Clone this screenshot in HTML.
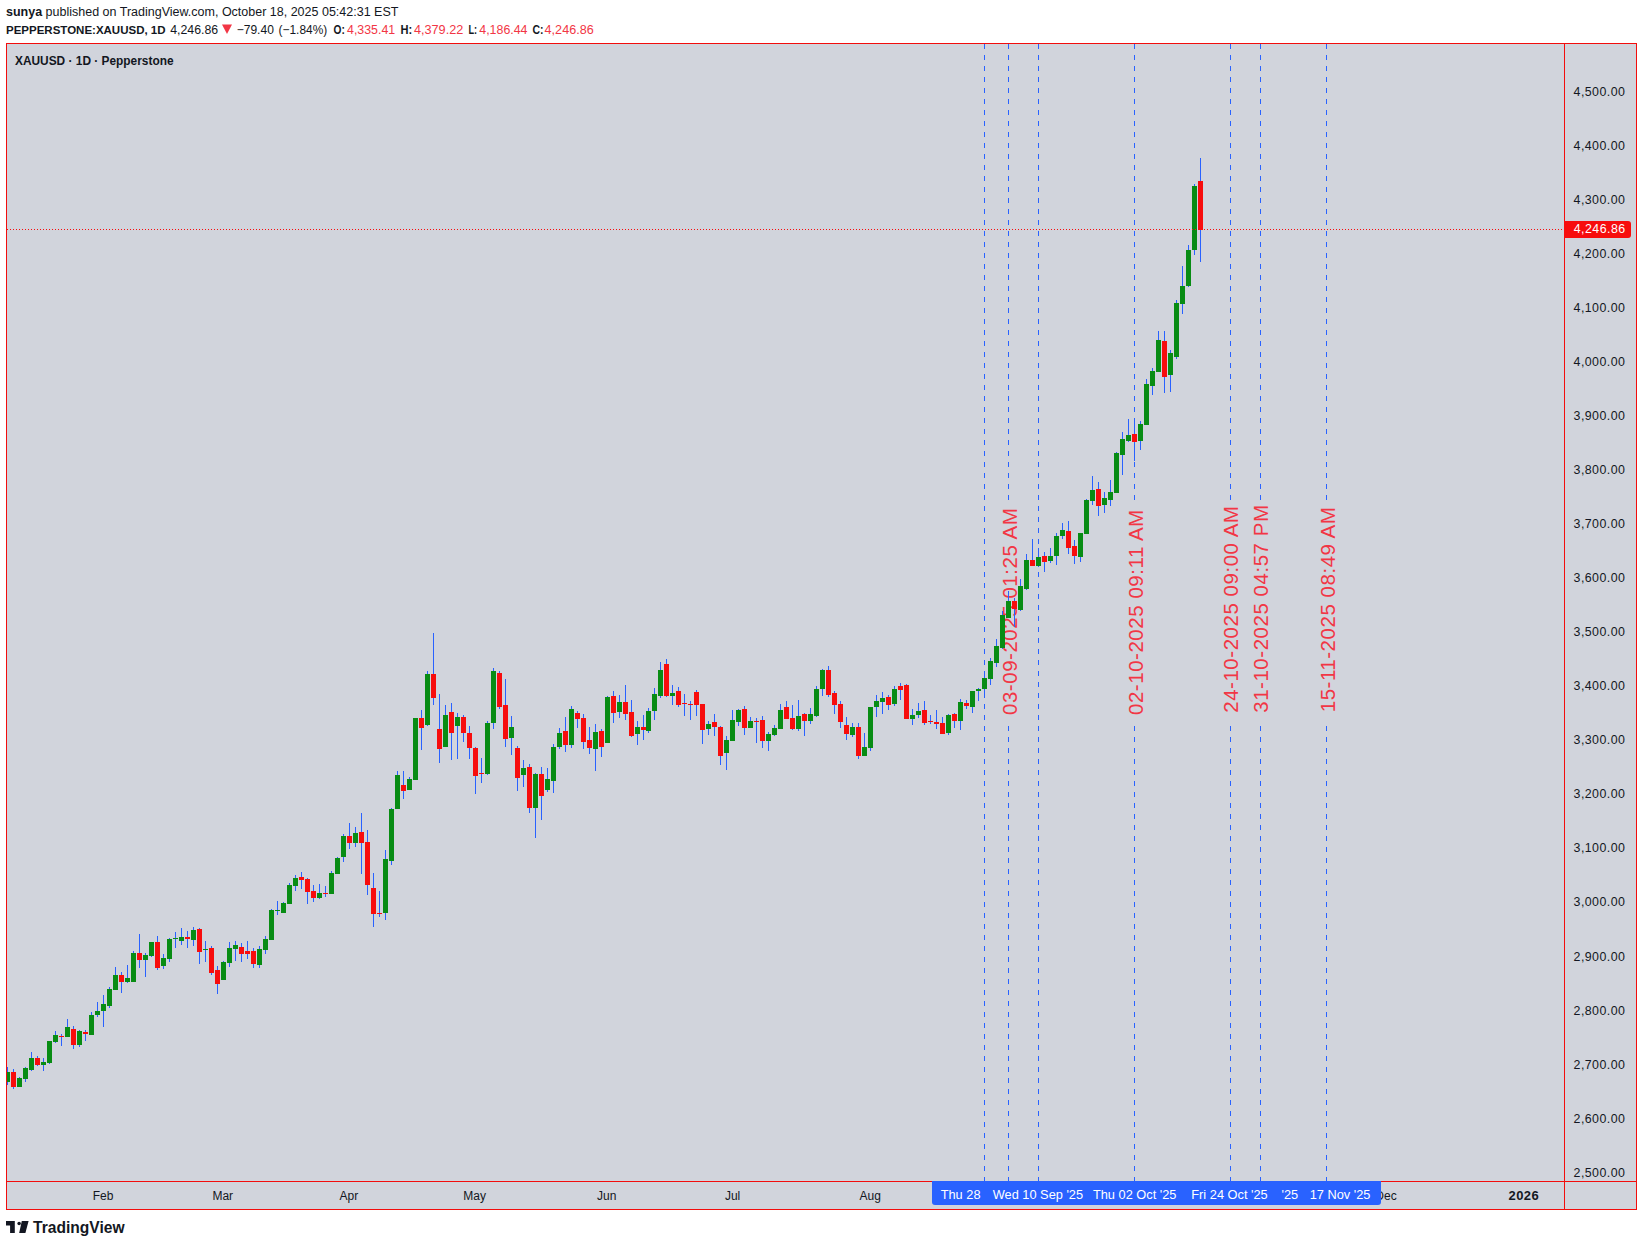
<!DOCTYPE html>
<html><head><meta charset="utf-8"><style>
html,body{margin:0;padding:0;background:#fff;width:1643px;height:1246px;overflow:hidden}
svg{display:block}
</style></head><body>
<svg width="1643" height="1246" viewBox="0 0 1643 1246" shape-rendering="crispEdges">
<rect x="6" y="43" width="1631" height="1167" fill="#d1d4dc"/>
<defs><clipPath id="pane"><rect x="7" y="44" width="1557" height="1137"/></clipPath></defs>
<g clip-path="url(#pane)">
<text x="0" y="0" transform="translate(1016.7,715.0) rotate(-90)" font-family='"Liberation Sans", sans-serif' font-size="20.5" letter-spacing="0.53" fill="#f23645">03-09-2025 01:25 AM</text>
<text x="0" y="0" transform="translate(1142.7,715.0) rotate(-90)" font-family='"Liberation Sans", sans-serif' font-size="20.5" letter-spacing="0.53" fill="#f23645">02-10-2025 09:11 AM</text>
<text x="0" y="0" transform="translate(1238.2,712.8) rotate(-90)" font-family='"Liberation Sans", sans-serif' font-size="20.5" letter-spacing="0.53" fill="#f23645">24-10-2025 09:00 AM</text>
<text x="0" y="0" transform="translate(1268.2,712.8) rotate(-90)" font-family='"Liberation Sans", sans-serif' font-size="20.5" letter-spacing="0.53" fill="#f23645">31-10-2025 04:57 PM</text>
<text x="0" y="0" transform="translate(1334.7,712.3) rotate(-90)" font-family='"Liberation Sans", sans-serif' font-size="20.5" letter-spacing="0.53" fill="#f23645">15-11-2025 08:49 AM</text>
<rect x="984" y="44" width="1" height="5" fill="#2962ff"/>
<rect x="984" y="55" width="1" height="5" fill="#2962ff"/>
<rect x="984" y="66" width="1" height="5" fill="#2962ff"/>
<rect x="984" y="77" width="1" height="5" fill="#2962ff"/>
<rect x="984" y="88" width="1" height="5" fill="#2962ff"/>
<rect x="984" y="99" width="1" height="5" fill="#2962ff"/>
<rect x="984" y="110" width="1" height="5" fill="#2962ff"/>
<rect x="984" y="121" width="1" height="5" fill="#2962ff"/>
<rect x="984" y="132" width="1" height="5" fill="#2962ff"/>
<rect x="984" y="143" width="1" height="5" fill="#2962ff"/>
<rect x="984" y="154" width="1" height="5" fill="#2962ff"/>
<rect x="984" y="165" width="1" height="5" fill="#2962ff"/>
<rect x="984" y="176" width="1" height="5" fill="#2962ff"/>
<rect x="984" y="187" width="1" height="5" fill="#2962ff"/>
<rect x="984" y="198" width="1" height="5" fill="#2962ff"/>
<rect x="984" y="209" width="1" height="5" fill="#2962ff"/>
<rect x="984" y="220" width="1" height="5" fill="#2962ff"/>
<rect x="984" y="231" width="1" height="5" fill="#2962ff"/>
<rect x="984" y="242" width="1" height="5" fill="#2962ff"/>
<rect x="984" y="253" width="1" height="5" fill="#2962ff"/>
<rect x="984" y="264" width="1" height="5" fill="#2962ff"/>
<rect x="984" y="275" width="1" height="5" fill="#2962ff"/>
<rect x="984" y="286" width="1" height="5" fill="#2962ff"/>
<rect x="984" y="297" width="1" height="5" fill="#2962ff"/>
<rect x="984" y="308" width="1" height="5" fill="#2962ff"/>
<rect x="984" y="319" width="1" height="5" fill="#2962ff"/>
<rect x="984" y="330" width="1" height="5" fill="#2962ff"/>
<rect x="984" y="341" width="1" height="5" fill="#2962ff"/>
<rect x="984" y="352" width="1" height="5" fill="#2962ff"/>
<rect x="984" y="363" width="1" height="5" fill="#2962ff"/>
<rect x="984" y="374" width="1" height="5" fill="#2962ff"/>
<rect x="984" y="385" width="1" height="5" fill="#2962ff"/>
<rect x="984" y="396" width="1" height="5" fill="#2962ff"/>
<rect x="984" y="407" width="1" height="5" fill="#2962ff"/>
<rect x="984" y="418" width="1" height="5" fill="#2962ff"/>
<rect x="984" y="429" width="1" height="5" fill="#2962ff"/>
<rect x="984" y="440" width="1" height="5" fill="#2962ff"/>
<rect x="984" y="451" width="1" height="5" fill="#2962ff"/>
<rect x="984" y="462" width="1" height="5" fill="#2962ff"/>
<rect x="984" y="473" width="1" height="5" fill="#2962ff"/>
<rect x="984" y="484" width="1" height="5" fill="#2962ff"/>
<rect x="984" y="495" width="1" height="5" fill="#2962ff"/>
<rect x="984" y="506" width="1" height="5" fill="#2962ff"/>
<rect x="984" y="517" width="1" height="5" fill="#2962ff"/>
<rect x="984" y="528" width="1" height="5" fill="#2962ff"/>
<rect x="984" y="539" width="1" height="5" fill="#2962ff"/>
<rect x="984" y="550" width="1" height="5" fill="#2962ff"/>
<rect x="984" y="561" width="1" height="5" fill="#2962ff"/>
<rect x="984" y="572" width="1" height="5" fill="#2962ff"/>
<rect x="984" y="583" width="1" height="5" fill="#2962ff"/>
<rect x="984" y="594" width="1" height="5" fill="#2962ff"/>
<rect x="984" y="605" width="1" height="5" fill="#2962ff"/>
<rect x="984" y="616" width="1" height="5" fill="#2962ff"/>
<rect x="984" y="627" width="1" height="5" fill="#2962ff"/>
<rect x="984" y="638" width="1" height="5" fill="#2962ff"/>
<rect x="984" y="649" width="1" height="5" fill="#2962ff"/>
<rect x="984" y="660" width="1" height="5" fill="#2962ff"/>
<rect x="984" y="671" width="1" height="5" fill="#2962ff"/>
<rect x="984" y="682" width="1" height="5" fill="#2962ff"/>
<rect x="984" y="693" width="1" height="5" fill="#2962ff"/>
<rect x="984" y="704" width="1" height="5" fill="#2962ff"/>
<rect x="984" y="715" width="1" height="5" fill="#2962ff"/>
<rect x="984" y="726" width="1" height="5" fill="#2962ff"/>
<rect x="984" y="737" width="1" height="5" fill="#2962ff"/>
<rect x="984" y="748" width="1" height="5" fill="#2962ff"/>
<rect x="984" y="759" width="1" height="5" fill="#2962ff"/>
<rect x="984" y="770" width="1" height="5" fill="#2962ff"/>
<rect x="984" y="781" width="1" height="5" fill="#2962ff"/>
<rect x="984" y="792" width="1" height="5" fill="#2962ff"/>
<rect x="984" y="803" width="1" height="5" fill="#2962ff"/>
<rect x="984" y="814" width="1" height="5" fill="#2962ff"/>
<rect x="984" y="825" width="1" height="5" fill="#2962ff"/>
<rect x="984" y="836" width="1" height="5" fill="#2962ff"/>
<rect x="984" y="847" width="1" height="5" fill="#2962ff"/>
<rect x="984" y="858" width="1" height="5" fill="#2962ff"/>
<rect x="984" y="869" width="1" height="5" fill="#2962ff"/>
<rect x="984" y="880" width="1" height="5" fill="#2962ff"/>
<rect x="984" y="891" width="1" height="5" fill="#2962ff"/>
<rect x="984" y="902" width="1" height="5" fill="#2962ff"/>
<rect x="984" y="913" width="1" height="5" fill="#2962ff"/>
<rect x="984" y="924" width="1" height="5" fill="#2962ff"/>
<rect x="984" y="935" width="1" height="5" fill="#2962ff"/>
<rect x="984" y="946" width="1" height="5" fill="#2962ff"/>
<rect x="984" y="957" width="1" height="5" fill="#2962ff"/>
<rect x="984" y="968" width="1" height="5" fill="#2962ff"/>
<rect x="984" y="979" width="1" height="5" fill="#2962ff"/>
<rect x="984" y="990" width="1" height="5" fill="#2962ff"/>
<rect x="984" y="1001" width="1" height="5" fill="#2962ff"/>
<rect x="984" y="1012" width="1" height="5" fill="#2962ff"/>
<rect x="984" y="1023" width="1" height="5" fill="#2962ff"/>
<rect x="984" y="1034" width="1" height="5" fill="#2962ff"/>
<rect x="984" y="1045" width="1" height="5" fill="#2962ff"/>
<rect x="984" y="1056" width="1" height="5" fill="#2962ff"/>
<rect x="984" y="1067" width="1" height="5" fill="#2962ff"/>
<rect x="984" y="1078" width="1" height="5" fill="#2962ff"/>
<rect x="984" y="1089" width="1" height="5" fill="#2962ff"/>
<rect x="984" y="1100" width="1" height="5" fill="#2962ff"/>
<rect x="984" y="1111" width="1" height="5" fill="#2962ff"/>
<rect x="984" y="1122" width="1" height="5" fill="#2962ff"/>
<rect x="984" y="1133" width="1" height="5" fill="#2962ff"/>
<rect x="984" y="1144" width="1" height="5" fill="#2962ff"/>
<rect x="984" y="1155" width="1" height="5" fill="#2962ff"/>
<rect x="984" y="1166" width="1" height="5" fill="#2962ff"/>
<rect x="984" y="1177" width="1" height="5" fill="#2962ff"/>
<rect x="1008" y="44" width="1" height="5" fill="#2962ff"/>
<rect x="1008" y="55" width="1" height="5" fill="#2962ff"/>
<rect x="1008" y="66" width="1" height="5" fill="#2962ff"/>
<rect x="1008" y="77" width="1" height="5" fill="#2962ff"/>
<rect x="1008" y="88" width="1" height="5" fill="#2962ff"/>
<rect x="1008" y="99" width="1" height="5" fill="#2962ff"/>
<rect x="1008" y="110" width="1" height="5" fill="#2962ff"/>
<rect x="1008" y="121" width="1" height="5" fill="#2962ff"/>
<rect x="1008" y="132" width="1" height="5" fill="#2962ff"/>
<rect x="1008" y="143" width="1" height="5" fill="#2962ff"/>
<rect x="1008" y="154" width="1" height="5" fill="#2962ff"/>
<rect x="1008" y="165" width="1" height="5" fill="#2962ff"/>
<rect x="1008" y="176" width="1" height="5" fill="#2962ff"/>
<rect x="1008" y="187" width="1" height="5" fill="#2962ff"/>
<rect x="1008" y="198" width="1" height="5" fill="#2962ff"/>
<rect x="1008" y="209" width="1" height="5" fill="#2962ff"/>
<rect x="1008" y="220" width="1" height="5" fill="#2962ff"/>
<rect x="1008" y="231" width="1" height="5" fill="#2962ff"/>
<rect x="1008" y="242" width="1" height="5" fill="#2962ff"/>
<rect x="1008" y="253" width="1" height="5" fill="#2962ff"/>
<rect x="1008" y="264" width="1" height="5" fill="#2962ff"/>
<rect x="1008" y="275" width="1" height="5" fill="#2962ff"/>
<rect x="1008" y="286" width="1" height="5" fill="#2962ff"/>
<rect x="1008" y="297" width="1" height="5" fill="#2962ff"/>
<rect x="1008" y="308" width="1" height="5" fill="#2962ff"/>
<rect x="1008" y="319" width="1" height="5" fill="#2962ff"/>
<rect x="1008" y="330" width="1" height="5" fill="#2962ff"/>
<rect x="1008" y="341" width="1" height="5" fill="#2962ff"/>
<rect x="1008" y="352" width="1" height="5" fill="#2962ff"/>
<rect x="1008" y="363" width="1" height="5" fill="#2962ff"/>
<rect x="1008" y="374" width="1" height="5" fill="#2962ff"/>
<rect x="1008" y="385" width="1" height="5" fill="#2962ff"/>
<rect x="1008" y="396" width="1" height="5" fill="#2962ff"/>
<rect x="1008" y="407" width="1" height="5" fill="#2962ff"/>
<rect x="1008" y="418" width="1" height="5" fill="#2962ff"/>
<rect x="1008" y="429" width="1" height="5" fill="#2962ff"/>
<rect x="1008" y="440" width="1" height="5" fill="#2962ff"/>
<rect x="1008" y="451" width="1" height="5" fill="#2962ff"/>
<rect x="1008" y="462" width="1" height="5" fill="#2962ff"/>
<rect x="1008" y="473" width="1" height="5" fill="#2962ff"/>
<rect x="1008" y="484" width="1" height="5" fill="#2962ff"/>
<rect x="1008" y="495" width="1" height="5" fill="#2962ff"/>
<rect x="1008" y="726" width="1" height="5" fill="#2962ff"/>
<rect x="1008" y="737" width="1" height="5" fill="#2962ff"/>
<rect x="1008" y="748" width="1" height="5" fill="#2962ff"/>
<rect x="1008" y="759" width="1" height="5" fill="#2962ff"/>
<rect x="1008" y="770" width="1" height="5" fill="#2962ff"/>
<rect x="1008" y="781" width="1" height="5" fill="#2962ff"/>
<rect x="1008" y="792" width="1" height="5" fill="#2962ff"/>
<rect x="1008" y="803" width="1" height="5" fill="#2962ff"/>
<rect x="1008" y="814" width="1" height="5" fill="#2962ff"/>
<rect x="1008" y="825" width="1" height="5" fill="#2962ff"/>
<rect x="1008" y="836" width="1" height="5" fill="#2962ff"/>
<rect x="1008" y="847" width="1" height="5" fill="#2962ff"/>
<rect x="1008" y="858" width="1" height="5" fill="#2962ff"/>
<rect x="1008" y="869" width="1" height="5" fill="#2962ff"/>
<rect x="1008" y="880" width="1" height="5" fill="#2962ff"/>
<rect x="1008" y="891" width="1" height="5" fill="#2962ff"/>
<rect x="1008" y="902" width="1" height="5" fill="#2962ff"/>
<rect x="1008" y="913" width="1" height="5" fill="#2962ff"/>
<rect x="1008" y="924" width="1" height="5" fill="#2962ff"/>
<rect x="1008" y="935" width="1" height="5" fill="#2962ff"/>
<rect x="1008" y="946" width="1" height="5" fill="#2962ff"/>
<rect x="1008" y="957" width="1" height="5" fill="#2962ff"/>
<rect x="1008" y="968" width="1" height="5" fill="#2962ff"/>
<rect x="1008" y="979" width="1" height="5" fill="#2962ff"/>
<rect x="1008" y="990" width="1" height="5" fill="#2962ff"/>
<rect x="1008" y="1001" width="1" height="5" fill="#2962ff"/>
<rect x="1008" y="1012" width="1" height="5" fill="#2962ff"/>
<rect x="1008" y="1023" width="1" height="5" fill="#2962ff"/>
<rect x="1008" y="1034" width="1" height="5" fill="#2962ff"/>
<rect x="1008" y="1045" width="1" height="5" fill="#2962ff"/>
<rect x="1008" y="1056" width="1" height="5" fill="#2962ff"/>
<rect x="1008" y="1067" width="1" height="5" fill="#2962ff"/>
<rect x="1008" y="1078" width="1" height="5" fill="#2962ff"/>
<rect x="1008" y="1089" width="1" height="5" fill="#2962ff"/>
<rect x="1008" y="1100" width="1" height="5" fill="#2962ff"/>
<rect x="1008" y="1111" width="1" height="5" fill="#2962ff"/>
<rect x="1008" y="1122" width="1" height="5" fill="#2962ff"/>
<rect x="1008" y="1133" width="1" height="5" fill="#2962ff"/>
<rect x="1008" y="1144" width="1" height="5" fill="#2962ff"/>
<rect x="1008" y="1155" width="1" height="5" fill="#2962ff"/>
<rect x="1008" y="1166" width="1" height="5" fill="#2962ff"/>
<rect x="1008" y="1177" width="1" height="5" fill="#2962ff"/>
<rect x="1038" y="44" width="1" height="5" fill="#2962ff"/>
<rect x="1038" y="55" width="1" height="5" fill="#2962ff"/>
<rect x="1038" y="66" width="1" height="5" fill="#2962ff"/>
<rect x="1038" y="77" width="1" height="5" fill="#2962ff"/>
<rect x="1038" y="88" width="1" height="5" fill="#2962ff"/>
<rect x="1038" y="99" width="1" height="5" fill="#2962ff"/>
<rect x="1038" y="110" width="1" height="5" fill="#2962ff"/>
<rect x="1038" y="121" width="1" height="5" fill="#2962ff"/>
<rect x="1038" y="132" width="1" height="5" fill="#2962ff"/>
<rect x="1038" y="143" width="1" height="5" fill="#2962ff"/>
<rect x="1038" y="154" width="1" height="5" fill="#2962ff"/>
<rect x="1038" y="165" width="1" height="5" fill="#2962ff"/>
<rect x="1038" y="176" width="1" height="5" fill="#2962ff"/>
<rect x="1038" y="187" width="1" height="5" fill="#2962ff"/>
<rect x="1038" y="198" width="1" height="5" fill="#2962ff"/>
<rect x="1038" y="209" width="1" height="5" fill="#2962ff"/>
<rect x="1038" y="220" width="1" height="5" fill="#2962ff"/>
<rect x="1038" y="231" width="1" height="5" fill="#2962ff"/>
<rect x="1038" y="242" width="1" height="5" fill="#2962ff"/>
<rect x="1038" y="253" width="1" height="5" fill="#2962ff"/>
<rect x="1038" y="264" width="1" height="5" fill="#2962ff"/>
<rect x="1038" y="275" width="1" height="5" fill="#2962ff"/>
<rect x="1038" y="286" width="1" height="5" fill="#2962ff"/>
<rect x="1038" y="297" width="1" height="5" fill="#2962ff"/>
<rect x="1038" y="308" width="1" height="5" fill="#2962ff"/>
<rect x="1038" y="319" width="1" height="5" fill="#2962ff"/>
<rect x="1038" y="330" width="1" height="5" fill="#2962ff"/>
<rect x="1038" y="341" width="1" height="5" fill="#2962ff"/>
<rect x="1038" y="352" width="1" height="5" fill="#2962ff"/>
<rect x="1038" y="363" width="1" height="5" fill="#2962ff"/>
<rect x="1038" y="374" width="1" height="5" fill="#2962ff"/>
<rect x="1038" y="385" width="1" height="5" fill="#2962ff"/>
<rect x="1038" y="396" width="1" height="5" fill="#2962ff"/>
<rect x="1038" y="407" width="1" height="5" fill="#2962ff"/>
<rect x="1038" y="418" width="1" height="5" fill="#2962ff"/>
<rect x="1038" y="429" width="1" height="5" fill="#2962ff"/>
<rect x="1038" y="440" width="1" height="5" fill="#2962ff"/>
<rect x="1038" y="451" width="1" height="5" fill="#2962ff"/>
<rect x="1038" y="462" width="1" height="5" fill="#2962ff"/>
<rect x="1038" y="473" width="1" height="5" fill="#2962ff"/>
<rect x="1038" y="484" width="1" height="5" fill="#2962ff"/>
<rect x="1038" y="495" width="1" height="5" fill="#2962ff"/>
<rect x="1038" y="506" width="1" height="5" fill="#2962ff"/>
<rect x="1038" y="517" width="1" height="5" fill="#2962ff"/>
<rect x="1038" y="528" width="1" height="5" fill="#2962ff"/>
<rect x="1038" y="539" width="1" height="5" fill="#2962ff"/>
<rect x="1038" y="550" width="1" height="5" fill="#2962ff"/>
<rect x="1038" y="561" width="1" height="5" fill="#2962ff"/>
<rect x="1038" y="572" width="1" height="5" fill="#2962ff"/>
<rect x="1038" y="583" width="1" height="5" fill="#2962ff"/>
<rect x="1038" y="594" width="1" height="5" fill="#2962ff"/>
<rect x="1038" y="605" width="1" height="5" fill="#2962ff"/>
<rect x="1038" y="616" width="1" height="5" fill="#2962ff"/>
<rect x="1038" y="627" width="1" height="5" fill="#2962ff"/>
<rect x="1038" y="638" width="1" height="5" fill="#2962ff"/>
<rect x="1038" y="649" width="1" height="5" fill="#2962ff"/>
<rect x="1038" y="660" width="1" height="5" fill="#2962ff"/>
<rect x="1038" y="671" width="1" height="5" fill="#2962ff"/>
<rect x="1038" y="682" width="1" height="5" fill="#2962ff"/>
<rect x="1038" y="693" width="1" height="5" fill="#2962ff"/>
<rect x="1038" y="704" width="1" height="5" fill="#2962ff"/>
<rect x="1038" y="715" width="1" height="5" fill="#2962ff"/>
<rect x="1038" y="726" width="1" height="5" fill="#2962ff"/>
<rect x="1038" y="737" width="1" height="5" fill="#2962ff"/>
<rect x="1038" y="748" width="1" height="5" fill="#2962ff"/>
<rect x="1038" y="759" width="1" height="5" fill="#2962ff"/>
<rect x="1038" y="770" width="1" height="5" fill="#2962ff"/>
<rect x="1038" y="781" width="1" height="5" fill="#2962ff"/>
<rect x="1038" y="792" width="1" height="5" fill="#2962ff"/>
<rect x="1038" y="803" width="1" height="5" fill="#2962ff"/>
<rect x="1038" y="814" width="1" height="5" fill="#2962ff"/>
<rect x="1038" y="825" width="1" height="5" fill="#2962ff"/>
<rect x="1038" y="836" width="1" height="5" fill="#2962ff"/>
<rect x="1038" y="847" width="1" height="5" fill="#2962ff"/>
<rect x="1038" y="858" width="1" height="5" fill="#2962ff"/>
<rect x="1038" y="869" width="1" height="5" fill="#2962ff"/>
<rect x="1038" y="880" width="1" height="5" fill="#2962ff"/>
<rect x="1038" y="891" width="1" height="5" fill="#2962ff"/>
<rect x="1038" y="902" width="1" height="5" fill="#2962ff"/>
<rect x="1038" y="913" width="1" height="5" fill="#2962ff"/>
<rect x="1038" y="924" width="1" height="5" fill="#2962ff"/>
<rect x="1038" y="935" width="1" height="5" fill="#2962ff"/>
<rect x="1038" y="946" width="1" height="5" fill="#2962ff"/>
<rect x="1038" y="957" width="1" height="5" fill="#2962ff"/>
<rect x="1038" y="968" width="1" height="5" fill="#2962ff"/>
<rect x="1038" y="979" width="1" height="5" fill="#2962ff"/>
<rect x="1038" y="990" width="1" height="5" fill="#2962ff"/>
<rect x="1038" y="1001" width="1" height="5" fill="#2962ff"/>
<rect x="1038" y="1012" width="1" height="5" fill="#2962ff"/>
<rect x="1038" y="1023" width="1" height="5" fill="#2962ff"/>
<rect x="1038" y="1034" width="1" height="5" fill="#2962ff"/>
<rect x="1038" y="1045" width="1" height="5" fill="#2962ff"/>
<rect x="1038" y="1056" width="1" height="5" fill="#2962ff"/>
<rect x="1038" y="1067" width="1" height="5" fill="#2962ff"/>
<rect x="1038" y="1078" width="1" height="5" fill="#2962ff"/>
<rect x="1038" y="1089" width="1" height="5" fill="#2962ff"/>
<rect x="1038" y="1100" width="1" height="5" fill="#2962ff"/>
<rect x="1038" y="1111" width="1" height="5" fill="#2962ff"/>
<rect x="1038" y="1122" width="1" height="5" fill="#2962ff"/>
<rect x="1038" y="1133" width="1" height="5" fill="#2962ff"/>
<rect x="1038" y="1144" width="1" height="5" fill="#2962ff"/>
<rect x="1038" y="1155" width="1" height="5" fill="#2962ff"/>
<rect x="1038" y="1166" width="1" height="5" fill="#2962ff"/>
<rect x="1038" y="1177" width="1" height="5" fill="#2962ff"/>
<rect x="1134" y="44" width="1" height="5" fill="#2962ff"/>
<rect x="1134" y="55" width="1" height="5" fill="#2962ff"/>
<rect x="1134" y="66" width="1" height="5" fill="#2962ff"/>
<rect x="1134" y="77" width="1" height="5" fill="#2962ff"/>
<rect x="1134" y="88" width="1" height="5" fill="#2962ff"/>
<rect x="1134" y="99" width="1" height="5" fill="#2962ff"/>
<rect x="1134" y="110" width="1" height="5" fill="#2962ff"/>
<rect x="1134" y="121" width="1" height="5" fill="#2962ff"/>
<rect x="1134" y="132" width="1" height="5" fill="#2962ff"/>
<rect x="1134" y="143" width="1" height="5" fill="#2962ff"/>
<rect x="1134" y="154" width="1" height="5" fill="#2962ff"/>
<rect x="1134" y="165" width="1" height="5" fill="#2962ff"/>
<rect x="1134" y="176" width="1" height="5" fill="#2962ff"/>
<rect x="1134" y="187" width="1" height="5" fill="#2962ff"/>
<rect x="1134" y="198" width="1" height="5" fill="#2962ff"/>
<rect x="1134" y="209" width="1" height="5" fill="#2962ff"/>
<rect x="1134" y="220" width="1" height="5" fill="#2962ff"/>
<rect x="1134" y="231" width="1" height="5" fill="#2962ff"/>
<rect x="1134" y="242" width="1" height="5" fill="#2962ff"/>
<rect x="1134" y="253" width="1" height="5" fill="#2962ff"/>
<rect x="1134" y="264" width="1" height="5" fill="#2962ff"/>
<rect x="1134" y="275" width="1" height="5" fill="#2962ff"/>
<rect x="1134" y="286" width="1" height="5" fill="#2962ff"/>
<rect x="1134" y="297" width="1" height="5" fill="#2962ff"/>
<rect x="1134" y="308" width="1" height="5" fill="#2962ff"/>
<rect x="1134" y="319" width="1" height="5" fill="#2962ff"/>
<rect x="1134" y="330" width="1" height="5" fill="#2962ff"/>
<rect x="1134" y="341" width="1" height="5" fill="#2962ff"/>
<rect x="1134" y="352" width="1" height="5" fill="#2962ff"/>
<rect x="1134" y="363" width="1" height="5" fill="#2962ff"/>
<rect x="1134" y="374" width="1" height="5" fill="#2962ff"/>
<rect x="1134" y="385" width="1" height="5" fill="#2962ff"/>
<rect x="1134" y="396" width="1" height="5" fill="#2962ff"/>
<rect x="1134" y="407" width="1" height="5" fill="#2962ff"/>
<rect x="1134" y="418" width="1" height="5" fill="#2962ff"/>
<rect x="1134" y="429" width="1" height="5" fill="#2962ff"/>
<rect x="1134" y="440" width="1" height="5" fill="#2962ff"/>
<rect x="1134" y="451" width="1" height="5" fill="#2962ff"/>
<rect x="1134" y="462" width="1" height="5" fill="#2962ff"/>
<rect x="1134" y="473" width="1" height="5" fill="#2962ff"/>
<rect x="1134" y="484" width="1" height="5" fill="#2962ff"/>
<rect x="1134" y="495" width="1" height="5" fill="#2962ff"/>
<rect x="1134" y="726" width="1" height="5" fill="#2962ff"/>
<rect x="1134" y="737" width="1" height="5" fill="#2962ff"/>
<rect x="1134" y="748" width="1" height="5" fill="#2962ff"/>
<rect x="1134" y="759" width="1" height="5" fill="#2962ff"/>
<rect x="1134" y="770" width="1" height="5" fill="#2962ff"/>
<rect x="1134" y="781" width="1" height="5" fill="#2962ff"/>
<rect x="1134" y="792" width="1" height="5" fill="#2962ff"/>
<rect x="1134" y="803" width="1" height="5" fill="#2962ff"/>
<rect x="1134" y="814" width="1" height="5" fill="#2962ff"/>
<rect x="1134" y="825" width="1" height="5" fill="#2962ff"/>
<rect x="1134" y="836" width="1" height="5" fill="#2962ff"/>
<rect x="1134" y="847" width="1" height="5" fill="#2962ff"/>
<rect x="1134" y="858" width="1" height="5" fill="#2962ff"/>
<rect x="1134" y="869" width="1" height="5" fill="#2962ff"/>
<rect x="1134" y="880" width="1" height="5" fill="#2962ff"/>
<rect x="1134" y="891" width="1" height="5" fill="#2962ff"/>
<rect x="1134" y="902" width="1" height="5" fill="#2962ff"/>
<rect x="1134" y="913" width="1" height="5" fill="#2962ff"/>
<rect x="1134" y="924" width="1" height="5" fill="#2962ff"/>
<rect x="1134" y="935" width="1" height="5" fill="#2962ff"/>
<rect x="1134" y="946" width="1" height="5" fill="#2962ff"/>
<rect x="1134" y="957" width="1" height="5" fill="#2962ff"/>
<rect x="1134" y="968" width="1" height="5" fill="#2962ff"/>
<rect x="1134" y="979" width="1" height="5" fill="#2962ff"/>
<rect x="1134" y="990" width="1" height="5" fill="#2962ff"/>
<rect x="1134" y="1001" width="1" height="5" fill="#2962ff"/>
<rect x="1134" y="1012" width="1" height="5" fill="#2962ff"/>
<rect x="1134" y="1023" width="1" height="5" fill="#2962ff"/>
<rect x="1134" y="1034" width="1" height="5" fill="#2962ff"/>
<rect x="1134" y="1045" width="1" height="5" fill="#2962ff"/>
<rect x="1134" y="1056" width="1" height="5" fill="#2962ff"/>
<rect x="1134" y="1067" width="1" height="5" fill="#2962ff"/>
<rect x="1134" y="1078" width="1" height="5" fill="#2962ff"/>
<rect x="1134" y="1089" width="1" height="5" fill="#2962ff"/>
<rect x="1134" y="1100" width="1" height="5" fill="#2962ff"/>
<rect x="1134" y="1111" width="1" height="5" fill="#2962ff"/>
<rect x="1134" y="1122" width="1" height="5" fill="#2962ff"/>
<rect x="1134" y="1133" width="1" height="5" fill="#2962ff"/>
<rect x="1134" y="1144" width="1" height="5" fill="#2962ff"/>
<rect x="1134" y="1155" width="1" height="5" fill="#2962ff"/>
<rect x="1134" y="1166" width="1" height="5" fill="#2962ff"/>
<rect x="1134" y="1177" width="1" height="5" fill="#2962ff"/>
<rect x="1230" y="44" width="1" height="5" fill="#2962ff"/>
<rect x="1230" y="55" width="1" height="5" fill="#2962ff"/>
<rect x="1230" y="66" width="1" height="5" fill="#2962ff"/>
<rect x="1230" y="77" width="1" height="5" fill="#2962ff"/>
<rect x="1230" y="88" width="1" height="5" fill="#2962ff"/>
<rect x="1230" y="99" width="1" height="5" fill="#2962ff"/>
<rect x="1230" y="110" width="1" height="5" fill="#2962ff"/>
<rect x="1230" y="121" width="1" height="5" fill="#2962ff"/>
<rect x="1230" y="132" width="1" height="5" fill="#2962ff"/>
<rect x="1230" y="143" width="1" height="5" fill="#2962ff"/>
<rect x="1230" y="154" width="1" height="5" fill="#2962ff"/>
<rect x="1230" y="165" width="1" height="5" fill="#2962ff"/>
<rect x="1230" y="176" width="1" height="5" fill="#2962ff"/>
<rect x="1230" y="187" width="1" height="5" fill="#2962ff"/>
<rect x="1230" y="198" width="1" height="5" fill="#2962ff"/>
<rect x="1230" y="209" width="1" height="5" fill="#2962ff"/>
<rect x="1230" y="220" width="1" height="5" fill="#2962ff"/>
<rect x="1230" y="231" width="1" height="5" fill="#2962ff"/>
<rect x="1230" y="242" width="1" height="5" fill="#2962ff"/>
<rect x="1230" y="253" width="1" height="5" fill="#2962ff"/>
<rect x="1230" y="264" width="1" height="5" fill="#2962ff"/>
<rect x="1230" y="275" width="1" height="5" fill="#2962ff"/>
<rect x="1230" y="286" width="1" height="5" fill="#2962ff"/>
<rect x="1230" y="297" width="1" height="5" fill="#2962ff"/>
<rect x="1230" y="308" width="1" height="5" fill="#2962ff"/>
<rect x="1230" y="319" width="1" height="5" fill="#2962ff"/>
<rect x="1230" y="330" width="1" height="5" fill="#2962ff"/>
<rect x="1230" y="341" width="1" height="5" fill="#2962ff"/>
<rect x="1230" y="352" width="1" height="5" fill="#2962ff"/>
<rect x="1230" y="363" width="1" height="5" fill="#2962ff"/>
<rect x="1230" y="374" width="1" height="5" fill="#2962ff"/>
<rect x="1230" y="385" width="1" height="5" fill="#2962ff"/>
<rect x="1230" y="396" width="1" height="5" fill="#2962ff"/>
<rect x="1230" y="407" width="1" height="5" fill="#2962ff"/>
<rect x="1230" y="418" width="1" height="5" fill="#2962ff"/>
<rect x="1230" y="429" width="1" height="5" fill="#2962ff"/>
<rect x="1230" y="440" width="1" height="5" fill="#2962ff"/>
<rect x="1230" y="451" width="1" height="5" fill="#2962ff"/>
<rect x="1230" y="462" width="1" height="5" fill="#2962ff"/>
<rect x="1230" y="473" width="1" height="5" fill="#2962ff"/>
<rect x="1230" y="484" width="1" height="5" fill="#2962ff"/>
<rect x="1230" y="495" width="1" height="5" fill="#2962ff"/>
<rect x="1230" y="726" width="1" height="5" fill="#2962ff"/>
<rect x="1230" y="737" width="1" height="5" fill="#2962ff"/>
<rect x="1230" y="748" width="1" height="5" fill="#2962ff"/>
<rect x="1230" y="759" width="1" height="5" fill="#2962ff"/>
<rect x="1230" y="770" width="1" height="5" fill="#2962ff"/>
<rect x="1230" y="781" width="1" height="5" fill="#2962ff"/>
<rect x="1230" y="792" width="1" height="5" fill="#2962ff"/>
<rect x="1230" y="803" width="1" height="5" fill="#2962ff"/>
<rect x="1230" y="814" width="1" height="5" fill="#2962ff"/>
<rect x="1230" y="825" width="1" height="5" fill="#2962ff"/>
<rect x="1230" y="836" width="1" height="5" fill="#2962ff"/>
<rect x="1230" y="847" width="1" height="5" fill="#2962ff"/>
<rect x="1230" y="858" width="1" height="5" fill="#2962ff"/>
<rect x="1230" y="869" width="1" height="5" fill="#2962ff"/>
<rect x="1230" y="880" width="1" height="5" fill="#2962ff"/>
<rect x="1230" y="891" width="1" height="5" fill="#2962ff"/>
<rect x="1230" y="902" width="1" height="5" fill="#2962ff"/>
<rect x="1230" y="913" width="1" height="5" fill="#2962ff"/>
<rect x="1230" y="924" width="1" height="5" fill="#2962ff"/>
<rect x="1230" y="935" width="1" height="5" fill="#2962ff"/>
<rect x="1230" y="946" width="1" height="5" fill="#2962ff"/>
<rect x="1230" y="957" width="1" height="5" fill="#2962ff"/>
<rect x="1230" y="968" width="1" height="5" fill="#2962ff"/>
<rect x="1230" y="979" width="1" height="5" fill="#2962ff"/>
<rect x="1230" y="990" width="1" height="5" fill="#2962ff"/>
<rect x="1230" y="1001" width="1" height="5" fill="#2962ff"/>
<rect x="1230" y="1012" width="1" height="5" fill="#2962ff"/>
<rect x="1230" y="1023" width="1" height="5" fill="#2962ff"/>
<rect x="1230" y="1034" width="1" height="5" fill="#2962ff"/>
<rect x="1230" y="1045" width="1" height="5" fill="#2962ff"/>
<rect x="1230" y="1056" width="1" height="5" fill="#2962ff"/>
<rect x="1230" y="1067" width="1" height="5" fill="#2962ff"/>
<rect x="1230" y="1078" width="1" height="5" fill="#2962ff"/>
<rect x="1230" y="1089" width="1" height="5" fill="#2962ff"/>
<rect x="1230" y="1100" width="1" height="5" fill="#2962ff"/>
<rect x="1230" y="1111" width="1" height="5" fill="#2962ff"/>
<rect x="1230" y="1122" width="1" height="5" fill="#2962ff"/>
<rect x="1230" y="1133" width="1" height="5" fill="#2962ff"/>
<rect x="1230" y="1144" width="1" height="5" fill="#2962ff"/>
<rect x="1230" y="1155" width="1" height="5" fill="#2962ff"/>
<rect x="1230" y="1166" width="1" height="5" fill="#2962ff"/>
<rect x="1230" y="1177" width="1" height="5" fill="#2962ff"/>
<rect x="1260" y="44" width="1" height="5" fill="#2962ff"/>
<rect x="1260" y="55" width="1" height="5" fill="#2962ff"/>
<rect x="1260" y="66" width="1" height="5" fill="#2962ff"/>
<rect x="1260" y="77" width="1" height="5" fill="#2962ff"/>
<rect x="1260" y="88" width="1" height="5" fill="#2962ff"/>
<rect x="1260" y="99" width="1" height="5" fill="#2962ff"/>
<rect x="1260" y="110" width="1" height="5" fill="#2962ff"/>
<rect x="1260" y="121" width="1" height="5" fill="#2962ff"/>
<rect x="1260" y="132" width="1" height="5" fill="#2962ff"/>
<rect x="1260" y="143" width="1" height="5" fill="#2962ff"/>
<rect x="1260" y="154" width="1" height="5" fill="#2962ff"/>
<rect x="1260" y="165" width="1" height="5" fill="#2962ff"/>
<rect x="1260" y="176" width="1" height="5" fill="#2962ff"/>
<rect x="1260" y="187" width="1" height="5" fill="#2962ff"/>
<rect x="1260" y="198" width="1" height="5" fill="#2962ff"/>
<rect x="1260" y="209" width="1" height="5" fill="#2962ff"/>
<rect x="1260" y="220" width="1" height="5" fill="#2962ff"/>
<rect x="1260" y="231" width="1" height="5" fill="#2962ff"/>
<rect x="1260" y="242" width="1" height="5" fill="#2962ff"/>
<rect x="1260" y="253" width="1" height="5" fill="#2962ff"/>
<rect x="1260" y="264" width="1" height="5" fill="#2962ff"/>
<rect x="1260" y="275" width="1" height="5" fill="#2962ff"/>
<rect x="1260" y="286" width="1" height="5" fill="#2962ff"/>
<rect x="1260" y="297" width="1" height="5" fill="#2962ff"/>
<rect x="1260" y="308" width="1" height="5" fill="#2962ff"/>
<rect x="1260" y="319" width="1" height="5" fill="#2962ff"/>
<rect x="1260" y="330" width="1" height="5" fill="#2962ff"/>
<rect x="1260" y="341" width="1" height="5" fill="#2962ff"/>
<rect x="1260" y="352" width="1" height="5" fill="#2962ff"/>
<rect x="1260" y="363" width="1" height="5" fill="#2962ff"/>
<rect x="1260" y="374" width="1" height="5" fill="#2962ff"/>
<rect x="1260" y="385" width="1" height="5" fill="#2962ff"/>
<rect x="1260" y="396" width="1" height="5" fill="#2962ff"/>
<rect x="1260" y="407" width="1" height="5" fill="#2962ff"/>
<rect x="1260" y="418" width="1" height="5" fill="#2962ff"/>
<rect x="1260" y="429" width="1" height="5" fill="#2962ff"/>
<rect x="1260" y="440" width="1" height="5" fill="#2962ff"/>
<rect x="1260" y="451" width="1" height="5" fill="#2962ff"/>
<rect x="1260" y="462" width="1" height="5" fill="#2962ff"/>
<rect x="1260" y="473" width="1" height="5" fill="#2962ff"/>
<rect x="1260" y="484" width="1" height="5" fill="#2962ff"/>
<rect x="1260" y="495" width="1" height="5" fill="#2962ff"/>
<rect x="1260" y="726" width="1" height="5" fill="#2962ff"/>
<rect x="1260" y="737" width="1" height="5" fill="#2962ff"/>
<rect x="1260" y="748" width="1" height="5" fill="#2962ff"/>
<rect x="1260" y="759" width="1" height="5" fill="#2962ff"/>
<rect x="1260" y="770" width="1" height="5" fill="#2962ff"/>
<rect x="1260" y="781" width="1" height="5" fill="#2962ff"/>
<rect x="1260" y="792" width="1" height="5" fill="#2962ff"/>
<rect x="1260" y="803" width="1" height="5" fill="#2962ff"/>
<rect x="1260" y="814" width="1" height="5" fill="#2962ff"/>
<rect x="1260" y="825" width="1" height="5" fill="#2962ff"/>
<rect x="1260" y="836" width="1" height="5" fill="#2962ff"/>
<rect x="1260" y="847" width="1" height="5" fill="#2962ff"/>
<rect x="1260" y="858" width="1" height="5" fill="#2962ff"/>
<rect x="1260" y="869" width="1" height="5" fill="#2962ff"/>
<rect x="1260" y="880" width="1" height="5" fill="#2962ff"/>
<rect x="1260" y="891" width="1" height="5" fill="#2962ff"/>
<rect x="1260" y="902" width="1" height="5" fill="#2962ff"/>
<rect x="1260" y="913" width="1" height="5" fill="#2962ff"/>
<rect x="1260" y="924" width="1" height="5" fill="#2962ff"/>
<rect x="1260" y="935" width="1" height="5" fill="#2962ff"/>
<rect x="1260" y="946" width="1" height="5" fill="#2962ff"/>
<rect x="1260" y="957" width="1" height="5" fill="#2962ff"/>
<rect x="1260" y="968" width="1" height="5" fill="#2962ff"/>
<rect x="1260" y="979" width="1" height="5" fill="#2962ff"/>
<rect x="1260" y="990" width="1" height="5" fill="#2962ff"/>
<rect x="1260" y="1001" width="1" height="5" fill="#2962ff"/>
<rect x="1260" y="1012" width="1" height="5" fill="#2962ff"/>
<rect x="1260" y="1023" width="1" height="5" fill="#2962ff"/>
<rect x="1260" y="1034" width="1" height="5" fill="#2962ff"/>
<rect x="1260" y="1045" width="1" height="5" fill="#2962ff"/>
<rect x="1260" y="1056" width="1" height="5" fill="#2962ff"/>
<rect x="1260" y="1067" width="1" height="5" fill="#2962ff"/>
<rect x="1260" y="1078" width="1" height="5" fill="#2962ff"/>
<rect x="1260" y="1089" width="1" height="5" fill="#2962ff"/>
<rect x="1260" y="1100" width="1" height="5" fill="#2962ff"/>
<rect x="1260" y="1111" width="1" height="5" fill="#2962ff"/>
<rect x="1260" y="1122" width="1" height="5" fill="#2962ff"/>
<rect x="1260" y="1133" width="1" height="5" fill="#2962ff"/>
<rect x="1260" y="1144" width="1" height="5" fill="#2962ff"/>
<rect x="1260" y="1155" width="1" height="5" fill="#2962ff"/>
<rect x="1260" y="1166" width="1" height="5" fill="#2962ff"/>
<rect x="1260" y="1177" width="1" height="5" fill="#2962ff"/>
<rect x="1326" y="44" width="1" height="5" fill="#2962ff"/>
<rect x="1326" y="55" width="1" height="5" fill="#2962ff"/>
<rect x="1326" y="66" width="1" height="5" fill="#2962ff"/>
<rect x="1326" y="77" width="1" height="5" fill="#2962ff"/>
<rect x="1326" y="88" width="1" height="5" fill="#2962ff"/>
<rect x="1326" y="99" width="1" height="5" fill="#2962ff"/>
<rect x="1326" y="110" width="1" height="5" fill="#2962ff"/>
<rect x="1326" y="121" width="1" height="5" fill="#2962ff"/>
<rect x="1326" y="132" width="1" height="5" fill="#2962ff"/>
<rect x="1326" y="143" width="1" height="5" fill="#2962ff"/>
<rect x="1326" y="154" width="1" height="5" fill="#2962ff"/>
<rect x="1326" y="165" width="1" height="5" fill="#2962ff"/>
<rect x="1326" y="176" width="1" height="5" fill="#2962ff"/>
<rect x="1326" y="187" width="1" height="5" fill="#2962ff"/>
<rect x="1326" y="198" width="1" height="5" fill="#2962ff"/>
<rect x="1326" y="209" width="1" height="5" fill="#2962ff"/>
<rect x="1326" y="220" width="1" height="5" fill="#2962ff"/>
<rect x="1326" y="231" width="1" height="5" fill="#2962ff"/>
<rect x="1326" y="242" width="1" height="5" fill="#2962ff"/>
<rect x="1326" y="253" width="1" height="5" fill="#2962ff"/>
<rect x="1326" y="264" width="1" height="5" fill="#2962ff"/>
<rect x="1326" y="275" width="1" height="5" fill="#2962ff"/>
<rect x="1326" y="286" width="1" height="5" fill="#2962ff"/>
<rect x="1326" y="297" width="1" height="5" fill="#2962ff"/>
<rect x="1326" y="308" width="1" height="5" fill="#2962ff"/>
<rect x="1326" y="319" width="1" height="5" fill="#2962ff"/>
<rect x="1326" y="330" width="1" height="5" fill="#2962ff"/>
<rect x="1326" y="341" width="1" height="5" fill="#2962ff"/>
<rect x="1326" y="352" width="1" height="5" fill="#2962ff"/>
<rect x="1326" y="363" width="1" height="5" fill="#2962ff"/>
<rect x="1326" y="374" width="1" height="5" fill="#2962ff"/>
<rect x="1326" y="385" width="1" height="5" fill="#2962ff"/>
<rect x="1326" y="396" width="1" height="5" fill="#2962ff"/>
<rect x="1326" y="407" width="1" height="5" fill="#2962ff"/>
<rect x="1326" y="418" width="1" height="5" fill="#2962ff"/>
<rect x="1326" y="429" width="1" height="5" fill="#2962ff"/>
<rect x="1326" y="440" width="1" height="5" fill="#2962ff"/>
<rect x="1326" y="451" width="1" height="5" fill="#2962ff"/>
<rect x="1326" y="462" width="1" height="5" fill="#2962ff"/>
<rect x="1326" y="473" width="1" height="5" fill="#2962ff"/>
<rect x="1326" y="484" width="1" height="5" fill="#2962ff"/>
<rect x="1326" y="495" width="1" height="5" fill="#2962ff"/>
<rect x="1326" y="726" width="1" height="5" fill="#2962ff"/>
<rect x="1326" y="737" width="1" height="5" fill="#2962ff"/>
<rect x="1326" y="748" width="1" height="5" fill="#2962ff"/>
<rect x="1326" y="759" width="1" height="5" fill="#2962ff"/>
<rect x="1326" y="770" width="1" height="5" fill="#2962ff"/>
<rect x="1326" y="781" width="1" height="5" fill="#2962ff"/>
<rect x="1326" y="792" width="1" height="5" fill="#2962ff"/>
<rect x="1326" y="803" width="1" height="5" fill="#2962ff"/>
<rect x="1326" y="814" width="1" height="5" fill="#2962ff"/>
<rect x="1326" y="825" width="1" height="5" fill="#2962ff"/>
<rect x="1326" y="836" width="1" height="5" fill="#2962ff"/>
<rect x="1326" y="847" width="1" height="5" fill="#2962ff"/>
<rect x="1326" y="858" width="1" height="5" fill="#2962ff"/>
<rect x="1326" y="869" width="1" height="5" fill="#2962ff"/>
<rect x="1326" y="880" width="1" height="5" fill="#2962ff"/>
<rect x="1326" y="891" width="1" height="5" fill="#2962ff"/>
<rect x="1326" y="902" width="1" height="5" fill="#2962ff"/>
<rect x="1326" y="913" width="1" height="5" fill="#2962ff"/>
<rect x="1326" y="924" width="1" height="5" fill="#2962ff"/>
<rect x="1326" y="935" width="1" height="5" fill="#2962ff"/>
<rect x="1326" y="946" width="1" height="5" fill="#2962ff"/>
<rect x="1326" y="957" width="1" height="5" fill="#2962ff"/>
<rect x="1326" y="968" width="1" height="5" fill="#2962ff"/>
<rect x="1326" y="979" width="1" height="5" fill="#2962ff"/>
<rect x="1326" y="990" width="1" height="5" fill="#2962ff"/>
<rect x="1326" y="1001" width="1" height="5" fill="#2962ff"/>
<rect x="1326" y="1012" width="1" height="5" fill="#2962ff"/>
<rect x="1326" y="1023" width="1" height="5" fill="#2962ff"/>
<rect x="1326" y="1034" width="1" height="5" fill="#2962ff"/>
<rect x="1326" y="1045" width="1" height="5" fill="#2962ff"/>
<rect x="1326" y="1056" width="1" height="5" fill="#2962ff"/>
<rect x="1326" y="1067" width="1" height="5" fill="#2962ff"/>
<rect x="1326" y="1078" width="1" height="5" fill="#2962ff"/>
<rect x="1326" y="1089" width="1" height="5" fill="#2962ff"/>
<rect x="1326" y="1100" width="1" height="5" fill="#2962ff"/>
<rect x="1326" y="1111" width="1" height="5" fill="#2962ff"/>
<rect x="1326" y="1122" width="1" height="5" fill="#2962ff"/>
<rect x="1326" y="1133" width="1" height="5" fill="#2962ff"/>
<rect x="1326" y="1144" width="1" height="5" fill="#2962ff"/>
<rect x="1326" y="1155" width="1" height="5" fill="#2962ff"/>
<rect x="1326" y="1166" width="1" height="5" fill="#2962ff"/>
<rect x="1326" y="1177" width="1" height="5" fill="#2962ff"/>
<rect x="7" y="1067" width="1" height="18" fill="#2962ff"/>
<rect x="5" y="1072" width="5" height="10" fill="#088c14"/>
<rect x="13" y="1069" width="1" height="20" fill="#2962ff"/>
<rect x="11" y="1072" width="5" height="15" fill="#f70d0d"/>
<rect x="19" y="1077" width="1" height="10" fill="#2962ff"/>
<rect x="17" y="1078" width="5" height="9" fill="#088c14"/>
<rect x="25" y="1067" width="1" height="15" fill="#2962ff"/>
<rect x="23" y="1068" width="5" height="11" fill="#088c14"/>
<rect x="31" y="1052" width="1" height="19" fill="#2962ff"/>
<rect x="29" y="1058" width="5" height="12" fill="#088c14"/>
<rect x="37" y="1056" width="1" height="10" fill="#2962ff"/>
<rect x="35" y="1058" width="5" height="7" fill="#f70d0d"/>
<rect x="43" y="1058" width="1" height="13" fill="#2962ff"/>
<rect x="41" y="1062" width="5" height="3" fill="#088c14"/>
<rect x="49" y="1041" width="1" height="23" fill="#2962ff"/>
<rect x="47" y="1041" width="5" height="22" fill="#088c14"/>
<rect x="55" y="1031" width="1" height="12" fill="#2962ff"/>
<rect x="53" y="1035" width="5" height="7" fill="#088c14"/>
<rect x="61" y="1034" width="1" height="12" fill="#2962ff"/>
<rect x="59" y="1036" width="5" height="1" fill="#f70d0d"/>
<rect x="67" y="1019" width="1" height="18" fill="#2962ff"/>
<rect x="65" y="1027" width="5" height="10" fill="#088c14"/>
<rect x="73" y="1026" width="1" height="23" fill="#2962ff"/>
<rect x="71" y="1029" width="5" height="16" fill="#f70d0d"/>
<rect x="79" y="1030" width="1" height="17" fill="#2962ff"/>
<rect x="77" y="1031" width="5" height="14" fill="#088c14"/>
<rect x="85" y="1030" width="1" height="11" fill="#2962ff"/>
<rect x="83" y="1032" width="5" height="2" fill="#f70d0d"/>
<rect x="91" y="1012" width="1" height="23" fill="#2962ff"/>
<rect x="89" y="1015" width="5" height="20" fill="#088c14"/>
<rect x="97" y="1002" width="1" height="15" fill="#2962ff"/>
<rect x="95" y="1011" width="5" height="4" fill="#088c14"/>
<rect x="103" y="995" width="1" height="32" fill="#2962ff"/>
<rect x="101" y="1004" width="5" height="7" fill="#088c14"/>
<rect x="109" y="987" width="1" height="21" fill="#2962ff"/>
<rect x="107" y="989" width="5" height="17" fill="#088c14"/>
<rect x="115" y="967" width="1" height="23" fill="#2962ff"/>
<rect x="113" y="975" width="5" height="15" fill="#088c14"/>
<rect x="121" y="972" width="1" height="21" fill="#2962ff"/>
<rect x="119" y="975" width="5" height="7" fill="#f70d0d"/>
<rect x="127" y="965" width="1" height="18" fill="#2962ff"/>
<rect x="125" y="978" width="5" height="4" fill="#088c14"/>
<rect x="133" y="951" width="1" height="31" fill="#2962ff"/>
<rect x="131" y="953" width="5" height="29" fill="#088c14"/>
<rect x="139" y="934" width="1" height="34" fill="#2962ff"/>
<rect x="137" y="953" width="5" height="7" fill="#f70d0d"/>
<rect x="145" y="953" width="1" height="24" fill="#2962ff"/>
<rect x="143" y="955" width="5" height="5" fill="#088c14"/>
<rect x="151" y="942" width="1" height="15" fill="#2962ff"/>
<rect x="149" y="942" width="5" height="14" fill="#088c14"/>
<rect x="157" y="936" width="1" height="34" fill="#2962ff"/>
<rect x="155" y="942" width="5" height="26" fill="#f70d0d"/>
<rect x="163" y="954" width="1" height="15" fill="#2962ff"/>
<rect x="161" y="958" width="5" height="8" fill="#088c14"/>
<rect x="169" y="938" width="1" height="24" fill="#2962ff"/>
<rect x="167" y="939" width="5" height="20" fill="#088c14"/>
<rect x="175" y="932" width="1" height="16" fill="#2962ff"/>
<rect x="173" y="938" width="5" height="1" fill="#088c14"/>
<rect x="181" y="928" width="1" height="17" fill="#2962ff"/>
<rect x="179" y="937" width="5" height="4" fill="#088c14"/>
<rect x="187" y="931" width="1" height="17" fill="#2962ff"/>
<rect x="185" y="937" width="5" height="2" fill="#f70d0d"/>
<rect x="193" y="927" width="1" height="19" fill="#2962ff"/>
<rect x="191" y="930" width="5" height="10" fill="#088c14"/>
<rect x="199" y="928" width="1" height="36" fill="#2962ff"/>
<rect x="197" y="929" width="5" height="23" fill="#f70d0d"/>
<rect x="205" y="941" width="1" height="21" fill="#2962ff"/>
<rect x="203" y="949" width="5" height="1" fill="#088c14"/>
<rect x="211" y="946" width="1" height="29" fill="#2962ff"/>
<rect x="209" y="948" width="5" height="25" fill="#f70d0d"/>
<rect x="217" y="966" width="1" height="28" fill="#2962ff"/>
<rect x="215" y="970" width="5" height="14" fill="#f70d0d"/>
<rect x="223" y="961" width="1" height="19" fill="#2962ff"/>
<rect x="221" y="962" width="5" height="18" fill="#088c14"/>
<rect x="229" y="942" width="1" height="25" fill="#2962ff"/>
<rect x="227" y="948" width="5" height="15" fill="#088c14"/>
<rect x="235" y="941" width="1" height="20" fill="#2962ff"/>
<rect x="233" y="945" width="5" height="4" fill="#088c14"/>
<rect x="241" y="943" width="1" height="19" fill="#2962ff"/>
<rect x="239" y="947" width="5" height="7" fill="#f70d0d"/>
<rect x="247" y="941" width="1" height="18" fill="#2962ff"/>
<rect x="245" y="951" width="5" height="3" fill="#f70d0d"/>
<rect x="253" y="948" width="1" height="20" fill="#2962ff"/>
<rect x="251" y="951" width="5" height="13" fill="#f70d0d"/>
<rect x="259" y="946" width="1" height="22" fill="#2962ff"/>
<rect x="257" y="949" width="5" height="16" fill="#088c14"/>
<rect x="265" y="936" width="1" height="18" fill="#2962ff"/>
<rect x="263" y="939" width="5" height="11" fill="#088c14"/>
<rect x="271" y="909" width="1" height="31" fill="#2962ff"/>
<rect x="269" y="910" width="5" height="30" fill="#088c14"/>
<rect x="277" y="901" width="1" height="14" fill="#2962ff"/>
<rect x="275" y="910" width="5" height="1" fill="#088c14"/>
<rect x="283" y="902" width="1" height="11" fill="#2962ff"/>
<rect x="281" y="903" width="5" height="10" fill="#088c14"/>
<rect x="289" y="883" width="1" height="21" fill="#2962ff"/>
<rect x="287" y="885" width="5" height="19" fill="#088c14"/>
<rect x="295" y="875" width="1" height="16" fill="#2962ff"/>
<rect x="293" y="878" width="5" height="8" fill="#088c14"/>
<rect x="301" y="872" width="1" height="17" fill="#2962ff"/>
<rect x="299" y="877" width="5" height="3" fill="#f70d0d"/>
<rect x="307" y="878" width="1" height="26" fill="#2962ff"/>
<rect x="305" y="879" width="5" height="13" fill="#f70d0d"/>
<rect x="313" y="885" width="1" height="17" fill="#2962ff"/>
<rect x="311" y="891" width="5" height="7" fill="#f70d0d"/>
<rect x="319" y="884" width="1" height="15" fill="#2962ff"/>
<rect x="317" y="893" width="5" height="5" fill="#088c14"/>
<rect x="325" y="886" width="1" height="11" fill="#2962ff"/>
<rect x="323" y="893" width="5" height="1" fill="#f70d0d"/>
<rect x="331" y="871" width="1" height="23" fill="#2962ff"/>
<rect x="329" y="873" width="5" height="21" fill="#088c14"/>
<rect x="337" y="857" width="1" height="17" fill="#2962ff"/>
<rect x="335" y="858" width="5" height="16" fill="#088c14"/>
<rect x="343" y="834" width="1" height="28" fill="#2962ff"/>
<rect x="341" y="836" width="5" height="21" fill="#088c14"/>
<rect x="349" y="823" width="1" height="26" fill="#2962ff"/>
<rect x="347" y="836" width="5" height="7" fill="#f70d0d"/>
<rect x="355" y="827" width="1" height="20" fill="#2962ff"/>
<rect x="353" y="833" width="5" height="10" fill="#088c14"/>
<rect x="361" y="813" width="1" height="61" fill="#2962ff"/>
<rect x="359" y="832" width="5" height="11" fill="#f70d0d"/>
<rect x="367" y="830" width="1" height="65" fill="#2962ff"/>
<rect x="365" y="842" width="5" height="43" fill="#f70d0d"/>
<rect x="373" y="873" width="1" height="54" fill="#2962ff"/>
<rect x="371" y="888" width="5" height="26" fill="#f70d0d"/>
<rect x="379" y="891" width="1" height="26" fill="#2962ff"/>
<rect x="377" y="913" width="5" height="1" fill="#f70d0d"/>
<rect x="385" y="850" width="1" height="70" fill="#2962ff"/>
<rect x="383" y="859" width="5" height="54" fill="#088c14"/>
<rect x="391" y="808" width="1" height="57" fill="#2962ff"/>
<rect x="389" y="809" width="5" height="52" fill="#088c14"/>
<rect x="397" y="771" width="1" height="38" fill="#2962ff"/>
<rect x="395" y="775" width="5" height="34" fill="#088c14"/>
<rect x="403" y="771" width="1" height="28" fill="#2962ff"/>
<rect x="401" y="785" width="5" height="6" fill="#f70d0d"/>
<rect x="409" y="777" width="1" height="13" fill="#2962ff"/>
<rect x="407" y="779" width="5" height="11" fill="#088c14"/>
<rect x="415" y="718" width="1" height="62" fill="#2962ff"/>
<rect x="413" y="718" width="5" height="62" fill="#088c14"/>
<rect x="421" y="710" width="1" height="40" fill="#2962ff"/>
<rect x="419" y="718" width="5" height="10" fill="#f70d0d"/>
<rect x="427" y="671" width="1" height="55" fill="#2962ff"/>
<rect x="425" y="674" width="5" height="51" fill="#088c14"/>
<rect x="433" y="633" width="1" height="72" fill="#2962ff"/>
<rect x="431" y="674" width="5" height="24" fill="#f70d0d"/>
<rect x="439" y="694" width="1" height="69" fill="#2962ff"/>
<rect x="437" y="729" width="5" height="20" fill="#f70d0d"/>
<rect x="445" y="705" width="1" height="42" fill="#2962ff"/>
<rect x="443" y="715" width="5" height="32" fill="#088c14"/>
<rect x="451" y="703" width="1" height="57" fill="#2962ff"/>
<rect x="449" y="712" width="5" height="21" fill="#f70d0d"/>
<rect x="457" y="713" width="1" height="46" fill="#2962ff"/>
<rect x="455" y="717" width="5" height="9" fill="#088c14"/>
<rect x="463" y="715" width="1" height="27" fill="#2962ff"/>
<rect x="461" y="717" width="5" height="16" fill="#f70d0d"/>
<rect x="469" y="726" width="1" height="33" fill="#2962ff"/>
<rect x="467" y="733" width="5" height="15" fill="#f70d0d"/>
<rect x="475" y="747" width="1" height="47" fill="#2962ff"/>
<rect x="473" y="748" width="5" height="28" fill="#f70d0d"/>
<rect x="481" y="758" width="1" height="25" fill="#2962ff"/>
<rect x="479" y="773" width="5" height="1" fill="#f70d0d"/>
<rect x="487" y="721" width="1" height="54" fill="#2962ff"/>
<rect x="485" y="723" width="5" height="51" fill="#088c14"/>
<rect x="493" y="668" width="1" height="61" fill="#2962ff"/>
<rect x="491" y="671" width="5" height="52" fill="#088c14"/>
<rect x="499" y="671" width="1" height="38" fill="#2962ff"/>
<rect x="497" y="673" width="5" height="34" fill="#f70d0d"/>
<rect x="505" y="679" width="1" height="68" fill="#2962ff"/>
<rect x="503" y="705" width="5" height="34" fill="#f70d0d"/>
<rect x="511" y="716" width="1" height="39" fill="#2962ff"/>
<rect x="509" y="727" width="5" height="11" fill="#088c14"/>
<rect x="517" y="746" width="1" height="45" fill="#2962ff"/>
<rect x="515" y="748" width="5" height="30" fill="#f70d0d"/>
<rect x="523" y="760" width="1" height="27" fill="#2962ff"/>
<rect x="521" y="768" width="5" height="7" fill="#088c14"/>
<rect x="529" y="764" width="1" height="49" fill="#2962ff"/>
<rect x="527" y="767" width="5" height="41" fill="#f70d0d"/>
<rect x="535" y="773" width="1" height="65" fill="#2962ff"/>
<rect x="533" y="774" width="5" height="34" fill="#088c14"/>
<rect x="541" y="767" width="1" height="53" fill="#2962ff"/>
<rect x="539" y="774" width="5" height="22" fill="#f70d0d"/>
<rect x="547" y="768" width="1" height="24" fill="#2962ff"/>
<rect x="545" y="779" width="5" height="11" fill="#088c14"/>
<rect x="553" y="744" width="1" height="49" fill="#2962ff"/>
<rect x="551" y="747" width="5" height="34" fill="#088c14"/>
<rect x="559" y="728" width="1" height="21" fill="#2962ff"/>
<rect x="557" y="733" width="5" height="14" fill="#088c14"/>
<rect x="565" y="717" width="1" height="35" fill="#2962ff"/>
<rect x="563" y="731" width="5" height="14" fill="#f70d0d"/>
<rect x="571" y="706" width="1" height="42" fill="#2962ff"/>
<rect x="569" y="709" width="5" height="36" fill="#088c14"/>
<rect x="577" y="711" width="1" height="17" fill="#2962ff"/>
<rect x="575" y="713" width="5" height="6" fill="#f70d0d"/>
<rect x="583" y="714" width="1" height="35" fill="#2962ff"/>
<rect x="581" y="718" width="5" height="24" fill="#f70d0d"/>
<rect x="589" y="727" width="1" height="27" fill="#2962ff"/>
<rect x="587" y="740" width="5" height="8" fill="#f70d0d"/>
<rect x="595" y="724" width="1" height="47" fill="#2962ff"/>
<rect x="593" y="732" width="5" height="17" fill="#088c14"/>
<rect x="601" y="729" width="1" height="28" fill="#2962ff"/>
<rect x="599" y="731" width="5" height="16" fill="#f70d0d"/>
<rect x="607" y="696" width="1" height="47" fill="#2962ff"/>
<rect x="605" y="697" width="5" height="46" fill="#088c14"/>
<rect x="613" y="691" width="1" height="32" fill="#2962ff"/>
<rect x="611" y="696" width="5" height="17" fill="#f70d0d"/>
<rect x="619" y="695" width="1" height="23" fill="#2962ff"/>
<rect x="617" y="702" width="5" height="10" fill="#088c14"/>
<rect x="625" y="685" width="1" height="35" fill="#2962ff"/>
<rect x="623" y="702" width="5" height="12" fill="#f70d0d"/>
<rect x="631" y="700" width="1" height="37" fill="#2962ff"/>
<rect x="629" y="712" width="5" height="24" fill="#f70d0d"/>
<rect x="637" y="721" width="1" height="24" fill="#2962ff"/>
<rect x="635" y="727" width="5" height="7" fill="#088c14"/>
<rect x="643" y="715" width="1" height="25" fill="#2962ff"/>
<rect x="641" y="727" width="5" height="3" fill="#f70d0d"/>
<rect x="648" y="708" width="1" height="25" fill="#2962ff"/>
<rect x="646" y="711" width="5" height="20" fill="#088c14"/>
<rect x="654" y="688" width="1" height="32" fill="#2962ff"/>
<rect x="652" y="694" width="5" height="17" fill="#088c14"/>
<rect x="660" y="662" width="1" height="36" fill="#2962ff"/>
<rect x="658" y="670" width="5" height="26" fill="#088c14"/>
<rect x="666" y="659" width="1" height="38" fill="#2962ff"/>
<rect x="664" y="664" width="5" height="32" fill="#f70d0d"/>
<rect x="672" y="685" width="1" height="20" fill="#2962ff"/>
<rect x="670" y="693" width="5" height="3" fill="#088c14"/>
<rect x="678" y="687" width="1" height="20" fill="#2962ff"/>
<rect x="676" y="691" width="5" height="14" fill="#f70d0d"/>
<rect x="684" y="694" width="1" height="22" fill="#2962ff"/>
<rect x="682" y="703" width="5" height="1" fill="#f70d0d"/>
<rect x="690" y="701" width="1" height="19" fill="#2962ff"/>
<rect x="688" y="704" width="5" height="1" fill="#f70d0d"/>
<rect x="696" y="690" width="1" height="26" fill="#2962ff"/>
<rect x="694" y="692" width="5" height="13" fill="#f70d0d"/>
<rect x="702" y="704" width="1" height="40" fill="#2962ff"/>
<rect x="700" y="704" width="5" height="26" fill="#f70d0d"/>
<rect x="708" y="721" width="1" height="14" fill="#2962ff"/>
<rect x="706" y="724" width="5" height="5" fill="#088c14"/>
<rect x="714" y="714" width="1" height="22" fill="#2962ff"/>
<rect x="712" y="722" width="5" height="5" fill="#f70d0d"/>
<rect x="720" y="726" width="1" height="39" fill="#2962ff"/>
<rect x="718" y="727" width="5" height="29" fill="#f70d0d"/>
<rect x="726" y="736" width="1" height="34" fill="#2962ff"/>
<rect x="724" y="740" width="5" height="13" fill="#088c14"/>
<rect x="732" y="710" width="1" height="31" fill="#2962ff"/>
<rect x="730" y="720" width="5" height="21" fill="#088c14"/>
<rect x="738" y="709" width="1" height="17" fill="#2962ff"/>
<rect x="736" y="710" width="5" height="12" fill="#088c14"/>
<rect x="744" y="706" width="1" height="29" fill="#2962ff"/>
<rect x="742" y="709" width="5" height="19" fill="#f70d0d"/>
<rect x="750" y="717" width="1" height="11" fill="#2962ff"/>
<rect x="748" y="721" width="5" height="7" fill="#088c14"/>
<rect x="756" y="718" width="1" height="25" fill="#2962ff"/>
<rect x="754" y="721" width="5" height="1" fill="#f70d0d"/>
<rect x="762" y="716" width="1" height="32" fill="#2962ff"/>
<rect x="760" y="720" width="5" height="21" fill="#f70d0d"/>
<rect x="768" y="732" width="1" height="19" fill="#2962ff"/>
<rect x="766" y="734" width="5" height="7" fill="#088c14"/>
<rect x="774" y="725" width="1" height="11" fill="#2962ff"/>
<rect x="772" y="728" width="5" height="7" fill="#088c14"/>
<rect x="780" y="704" width="1" height="25" fill="#2962ff"/>
<rect x="778" y="710" width="5" height="19" fill="#088c14"/>
<rect x="786" y="701" width="1" height="18" fill="#2962ff"/>
<rect x="784" y="707" width="5" height="12" fill="#f70d0d"/>
<rect x="792" y="705" width="1" height="25" fill="#2962ff"/>
<rect x="790" y="718" width="5" height="11" fill="#f70d0d"/>
<rect x="798" y="700" width="1" height="31" fill="#2962ff"/>
<rect x="796" y="716" width="5" height="13" fill="#088c14"/>
<rect x="804" y="713" width="1" height="23" fill="#2962ff"/>
<rect x="802" y="714" width="5" height="7" fill="#f70d0d"/>
<rect x="810" y="708" width="1" height="16" fill="#2962ff"/>
<rect x="808" y="714" width="5" height="7" fill="#088c14"/>
<rect x="816" y="686" width="1" height="31" fill="#2962ff"/>
<rect x="814" y="689" width="5" height="27" fill="#088c14"/>
<rect x="822" y="669" width="1" height="27" fill="#2962ff"/>
<rect x="820" y="670" width="5" height="19" fill="#088c14"/>
<rect x="828" y="666" width="1" height="31" fill="#2962ff"/>
<rect x="826" y="670" width="5" height="25" fill="#f70d0d"/>
<rect x="834" y="691" width="1" height="23" fill="#2962ff"/>
<rect x="832" y="693" width="5" height="12" fill="#f70d0d"/>
<rect x="840" y="701" width="1" height="27" fill="#2962ff"/>
<rect x="838" y="704" width="5" height="18" fill="#f70d0d"/>
<rect x="846" y="717" width="1" height="23" fill="#2962ff"/>
<rect x="844" y="725" width="5" height="9" fill="#f70d0d"/>
<rect x="852" y="723" width="1" height="14" fill="#2962ff"/>
<rect x="850" y="727" width="5" height="8" fill="#088c14"/>
<rect x="858" y="723" width="1" height="36" fill="#2962ff"/>
<rect x="856" y="727" width="5" height="29" fill="#f70d0d"/>
<rect x="864" y="733" width="1" height="23" fill="#2962ff"/>
<rect x="862" y="747" width="5" height="9" fill="#088c14"/>
<rect x="870" y="707" width="1" height="44" fill="#2962ff"/>
<rect x="868" y="707" width="5" height="41" fill="#088c14"/>
<rect x="876" y="695" width="1" height="22" fill="#2962ff"/>
<rect x="874" y="701" width="5" height="6" fill="#088c14"/>
<rect x="882" y="692" width="1" height="22" fill="#2962ff"/>
<rect x="880" y="698" width="5" height="4" fill="#088c14"/>
<rect x="888" y="695" width="1" height="15" fill="#2962ff"/>
<rect x="886" y="697" width="5" height="8" fill="#f70d0d"/>
<rect x="894" y="686" width="1" height="20" fill="#2962ff"/>
<rect x="892" y="689" width="5" height="15" fill="#088c14"/>
<rect x="900" y="683" width="1" height="17" fill="#2962ff"/>
<rect x="898" y="686" width="5" height="4" fill="#f70d0d"/>
<rect x="906" y="684" width="1" height="35" fill="#2962ff"/>
<rect x="904" y="685" width="5" height="34" fill="#f70d0d"/>
<rect x="912" y="709" width="1" height="16" fill="#2962ff"/>
<rect x="910" y="715" width="5" height="4" fill="#088c14"/>
<rect x="918" y="703" width="1" height="15" fill="#2962ff"/>
<rect x="916" y="711" width="5" height="4" fill="#088c14"/>
<rect x="924" y="701" width="1" height="24" fill="#2962ff"/>
<rect x="922" y="710" width="5" height="13" fill="#f70d0d"/>
<rect x="930" y="715" width="1" height="9" fill="#2962ff"/>
<rect x="928" y="721" width="5" height="1" fill="#f70d0d"/>
<rect x="936" y="710" width="1" height="19" fill="#2962ff"/>
<rect x="934" y="722" width="5" height="2" fill="#f70d0d"/>
<rect x="942" y="717" width="1" height="17" fill="#2962ff"/>
<rect x="940" y="723" width="5" height="11" fill="#f70d0d"/>
<rect x="948" y="714" width="1" height="21" fill="#2962ff"/>
<rect x="946" y="715" width="5" height="18" fill="#088c14"/>
<rect x="954" y="713" width="1" height="15" fill="#2962ff"/>
<rect x="952" y="714" width="5" height="7" fill="#f70d0d"/>
<rect x="960" y="699" width="1" height="31" fill="#2962ff"/>
<rect x="958" y="702" width="5" height="19" fill="#088c14"/>
<rect x="966" y="700" width="1" height="9" fill="#2962ff"/>
<rect x="964" y="703" width="5" height="3" fill="#f70d0d"/>
<rect x="972" y="691" width="1" height="22" fill="#2962ff"/>
<rect x="970" y="691" width="5" height="16" fill="#088c14"/>
<rect x="978" y="688" width="1" height="13" fill="#2962ff"/>
<rect x="976" y="689" width="5" height="2" fill="#088c14"/>
<rect x="984" y="671" width="1" height="26" fill="#2962ff"/>
<rect x="982" y="678" width="5" height="11" fill="#088c14"/>
<rect x="990" y="658" width="1" height="27" fill="#2962ff"/>
<rect x="988" y="661" width="5" height="18" fill="#088c14"/>
<rect x="996" y="639" width="1" height="28" fill="#2962ff"/>
<rect x="994" y="646" width="5" height="17" fill="#088c14"/>
<rect x="1002" y="611" width="1" height="38" fill="#2962ff"/>
<rect x="1000" y="615" width="5" height="33" fill="#088c14"/>
<rect x="1008" y="591" width="1" height="27" fill="#2962ff"/>
<rect x="1006" y="601" width="5" height="17" fill="#088c14"/>
<rect x="1014" y="598" width="1" height="29" fill="#2962ff"/>
<rect x="1012" y="601" width="5" height="8" fill="#f70d0d"/>
<rect x="1020" y="579" width="1" height="32" fill="#2962ff"/>
<rect x="1018" y="586" width="5" height="24" fill="#088c14"/>
<rect x="1026" y="554" width="1" height="36" fill="#2962ff"/>
<rect x="1024" y="560" width="5" height="29" fill="#088c14"/>
<rect x="1032" y="539" width="1" height="27" fill="#2962ff"/>
<rect x="1030" y="560" width="5" height="6" fill="#f70d0d"/>
<rect x="1038" y="548" width="1" height="19" fill="#2962ff"/>
<rect x="1036" y="557" width="5" height="9" fill="#088c14"/>
<rect x="1044" y="552" width="1" height="20" fill="#2962ff"/>
<rect x="1042" y="556" width="5" height="6" fill="#f70d0d"/>
<rect x="1050" y="548" width="1" height="15" fill="#2962ff"/>
<rect x="1048" y="556" width="5" height="5" fill="#088c14"/>
<rect x="1056" y="533" width="1" height="32" fill="#2962ff"/>
<rect x="1054" y="536" width="5" height="20" fill="#088c14"/>
<rect x="1062" y="523" width="1" height="16" fill="#2962ff"/>
<rect x="1060" y="530" width="5" height="6" fill="#088c14"/>
<rect x="1068" y="521" width="1" height="33" fill="#2962ff"/>
<rect x="1066" y="531" width="5" height="17" fill="#f70d0d"/>
<rect x="1074" y="540" width="1" height="24" fill="#2962ff"/>
<rect x="1072" y="546" width="5" height="10" fill="#f70d0d"/>
<rect x="1080" y="533" width="1" height="29" fill="#2962ff"/>
<rect x="1078" y="533" width="5" height="24" fill="#088c14"/>
<rect x="1086" y="499" width="1" height="35" fill="#2962ff"/>
<rect x="1084" y="500" width="5" height="34" fill="#088c14"/>
<rect x="1092" y="476" width="1" height="29" fill="#2962ff"/>
<rect x="1090" y="490" width="5" height="11" fill="#088c14"/>
<rect x="1098" y="482" width="1" height="34" fill="#2962ff"/>
<rect x="1096" y="489" width="5" height="17" fill="#f70d0d"/>
<rect x="1104" y="492" width="1" height="21" fill="#2962ff"/>
<rect x="1102" y="498" width="5" height="7" fill="#088c14"/>
<rect x="1110" y="480" width="1" height="26" fill="#2962ff"/>
<rect x="1108" y="492" width="5" height="8" fill="#088c14"/>
<rect x="1116" y="452" width="1" height="41" fill="#2962ff"/>
<rect x="1114" y="453" width="5" height="40" fill="#088c14"/>
<rect x="1122" y="432" width="1" height="43" fill="#2962ff"/>
<rect x="1120" y="439" width="5" height="16" fill="#088c14"/>
<rect x="1128" y="419" width="1" height="23" fill="#2962ff"/>
<rect x="1126" y="435" width="5" height="6" fill="#088c14"/>
<rect x="1134" y="418" width="1" height="43" fill="#2962ff"/>
<rect x="1132" y="434" width="5" height="8" fill="#f70d0d"/>
<rect x="1140" y="421" width="1" height="29" fill="#2962ff"/>
<rect x="1138" y="424" width="5" height="17" fill="#088c14"/>
<rect x="1146" y="379" width="1" height="46" fill="#2962ff"/>
<rect x="1144" y="384" width="5" height="41" fill="#088c14"/>
<rect x="1152" y="368" width="1" height="27" fill="#2962ff"/>
<rect x="1150" y="371" width="5" height="15" fill="#088c14"/>
<rect x="1158" y="331" width="1" height="41" fill="#2962ff"/>
<rect x="1156" y="340" width="5" height="32" fill="#088c14"/>
<rect x="1164" y="331" width="1" height="62" fill="#2962ff"/>
<rect x="1162" y="341" width="5" height="36" fill="#f70d0d"/>
<rect x="1170" y="350" width="1" height="42" fill="#2962ff"/>
<rect x="1168" y="353" width="5" height="22" fill="#088c14"/>
<rect x="1176" y="300" width="1" height="59" fill="#2962ff"/>
<rect x="1174" y="303" width="5" height="54" fill="#088c14"/>
<rect x="1182" y="266" width="1" height="48" fill="#2962ff"/>
<rect x="1180" y="286" width="5" height="18" fill="#088c14"/>
<rect x="1188" y="245" width="1" height="42" fill="#2962ff"/>
<rect x="1186" y="250" width="5" height="36" fill="#088c14"/>
<rect x="1194" y="184" width="1" height="71" fill="#2962ff"/>
<rect x="1192" y="186" width="5" height="64" fill="#088c14"/>
<rect x="1200" y="158" width="1" height="104" fill="#2962ff"/>
<rect x="1198" y="181" width="5" height="49" fill="#f70d0d"/>
<path d="M7 229h1M10 229h1M13 229h1M16 229h1M19 229h1M22 229h1M25 229h1M28 229h1M31 229h1M34 229h1M37 229h1M40 229h1M43 229h1M46 229h1M49 229h1M52 229h1M55 229h1M58 229h1M61 229h1M64 229h1M67 229h1M70 229h1M73 229h1M76 229h1M79 229h1M82 229h1M85 229h1M88 229h1M91 229h1M94 229h1M97 229h1M100 229h1M103 229h1M106 229h1M109 229h1M112 229h1M115 229h1M118 229h1M121 229h1M124 229h1M127 229h1M130 229h1M133 229h1M136 229h1M139 229h1M142 229h1M145 229h1M148 229h1M151 229h1M154 229h1M157 229h1M160 229h1M163 229h1M166 229h1M169 229h1M172 229h1M175 229h1M178 229h1M181 229h1M184 229h1M187 229h1M190 229h1M193 229h1M196 229h1M199 229h1M202 229h1M205 229h1M208 229h1M211 229h1M214 229h1M217 229h1M220 229h1M223 229h1M226 229h1M229 229h1M232 229h1M235 229h1M238 229h1M241 229h1M244 229h1M247 229h1M250 229h1M253 229h1M256 229h1M259 229h1M262 229h1M265 229h1M268 229h1M271 229h1M274 229h1M277 229h1M280 229h1M283 229h1M286 229h1M289 229h1M292 229h1M295 229h1M298 229h1M301 229h1M304 229h1M307 229h1M310 229h1M313 229h1M316 229h1M319 229h1M322 229h1M325 229h1M328 229h1M331 229h1M334 229h1M337 229h1M340 229h1M343 229h1M346 229h1M349 229h1M352 229h1M355 229h1M358 229h1M361 229h1M364 229h1M367 229h1M370 229h1M373 229h1M376 229h1M379 229h1M382 229h1M385 229h1M388 229h1M391 229h1M394 229h1M397 229h1M400 229h1M403 229h1M406 229h1M409 229h1M412 229h1M415 229h1M418 229h1M421 229h1M424 229h1M427 229h1M430 229h1M433 229h1M436 229h1M439 229h1M442 229h1M445 229h1M448 229h1M451 229h1M454 229h1M457 229h1M460 229h1M463 229h1M466 229h1M469 229h1M472 229h1M475 229h1M478 229h1M481 229h1M484 229h1M487 229h1M490 229h1M493 229h1M496 229h1M499 229h1M502 229h1M505 229h1M508 229h1M511 229h1M514 229h1M517 229h1M520 229h1M523 229h1M526 229h1M529 229h1M532 229h1M535 229h1M538 229h1M541 229h1M544 229h1M547 229h1M550 229h1M553 229h1M556 229h1M559 229h1M562 229h1M565 229h1M568 229h1M571 229h1M574 229h1M577 229h1M580 229h1M583 229h1M586 229h1M589 229h1M592 229h1M595 229h1M598 229h1M601 229h1M604 229h1M607 229h1M610 229h1M613 229h1M616 229h1M619 229h1M622 229h1M625 229h1M628 229h1M631 229h1M634 229h1M637 229h1M640 229h1M643 229h1M646 229h1M649 229h1M652 229h1M655 229h1M658 229h1M661 229h1M664 229h1M667 229h1M670 229h1M673 229h1M676 229h1M679 229h1M682 229h1M685 229h1M688 229h1M691 229h1M694 229h1M697 229h1M700 229h1M703 229h1M706 229h1M709 229h1M712 229h1M715 229h1M718 229h1M721 229h1M724 229h1M727 229h1M730 229h1M733 229h1M736 229h1M739 229h1M742 229h1M745 229h1M748 229h1M751 229h1M754 229h1M757 229h1M760 229h1M763 229h1M766 229h1M769 229h1M772 229h1M775 229h1M778 229h1M781 229h1M784 229h1M787 229h1M790 229h1M793 229h1M796 229h1M799 229h1M802 229h1M805 229h1M808 229h1M811 229h1M814 229h1M817 229h1M820 229h1M823 229h1M826 229h1M829 229h1M832 229h1M835 229h1M838 229h1M841 229h1M844 229h1M847 229h1M850 229h1M853 229h1M856 229h1M859 229h1M862 229h1M865 229h1M868 229h1M871 229h1M874 229h1M877 229h1M880 229h1M883 229h1M886 229h1M889 229h1M892 229h1M895 229h1M898 229h1M901 229h1M904 229h1M907 229h1M910 229h1M913 229h1M916 229h1M919 229h1M922 229h1M925 229h1M928 229h1M931 229h1M934 229h1M937 229h1M940 229h1M943 229h1M946 229h1M949 229h1M952 229h1M955 229h1M958 229h1M961 229h1M964 229h1M967 229h1M970 229h1M973 229h1M976 229h1M979 229h1M982 229h1M985 229h1M988 229h1M991 229h1M994 229h1M997 229h1M1000 229h1M1003 229h1M1006 229h1M1009 229h1M1012 229h1M1015 229h1M1018 229h1M1021 229h1M1024 229h1M1027 229h1M1030 229h1M1033 229h1M1036 229h1M1039 229h1M1042 229h1M1045 229h1M1048 229h1M1051 229h1M1054 229h1M1057 229h1M1060 229h1M1063 229h1M1066 229h1M1069 229h1M1072 229h1M1075 229h1M1078 229h1M1081 229h1M1084 229h1M1087 229h1M1090 229h1M1093 229h1M1096 229h1M1099 229h1M1102 229h1M1105 229h1M1108 229h1M1111 229h1M1114 229h1M1117 229h1M1120 229h1M1123 229h1M1126 229h1M1129 229h1M1132 229h1M1135 229h1M1138 229h1M1141 229h1M1144 229h1M1147 229h1M1150 229h1M1153 229h1M1156 229h1M1159 229h1M1162 229h1M1165 229h1M1168 229h1M1171 229h1M1174 229h1M1177 229h1M1180 229h1M1183 229h1M1186 229h1M1189 229h1M1192 229h1M1195 229h1M1198 229h1M1201 229h1M1204 229h1M1207 229h1M1210 229h1M1213 229h1M1216 229h1M1219 229h1M1222 229h1M1225 229h1M1228 229h1M1231 229h1M1234 229h1M1237 229h1M1240 229h1M1243 229h1M1246 229h1M1249 229h1M1252 229h1M1255 229h1M1258 229h1M1261 229h1M1264 229h1M1267 229h1M1270 229h1M1273 229h1M1276 229h1M1279 229h1M1282 229h1M1285 229h1M1288 229h1M1291 229h1M1294 229h1M1297 229h1M1300 229h1M1303 229h1M1306 229h1M1309 229h1M1312 229h1M1315 229h1M1318 229h1M1321 229h1M1324 229h1M1327 229h1M1330 229h1M1333 229h1M1336 229h1M1339 229h1M1342 229h1M1345 229h1M1348 229h1M1351 229h1M1354 229h1M1357 229h1M1360 229h1M1363 229h1M1366 229h1M1369 229h1M1372 229h1M1375 229h1M1378 229h1M1381 229h1M1384 229h1M1387 229h1M1390 229h1M1393 229h1M1396 229h1M1399 229h1M1402 229h1M1405 229h1M1408 229h1M1411 229h1M1414 229h1M1417 229h1M1420 229h1M1423 229h1M1426 229h1M1429 229h1M1432 229h1M1435 229h1M1438 229h1M1441 229h1M1444 229h1M1447 229h1M1450 229h1M1453 229h1M1456 229h1M1459 229h1M1462 229h1M1465 229h1M1468 229h1M1471 229h1M1474 229h1M1477 229h1M1480 229h1M1483 229h1M1486 229h1M1489 229h1M1492 229h1M1495 229h1M1498 229h1M1501 229h1M1504 229h1M1507 229h1M1510 229h1M1513 229h1M1516 229h1M1519 229h1M1522 229h1M1525 229h1M1528 229h1M1531 229h1M1534 229h1M1537 229h1M1540 229h1M1543 229h1M1546 229h1M1549 229h1M1552 229h1M1555 229h1M1558 229h1M1561 229h1" stroke="#f70d0d" stroke-width="1" transform="translate(0,0.5)"/>
</g>
<rect x="6" y="43" width="1631" height="1" fill="#f20d0d"/>
<rect x="6" y="1209" width="1631" height="1" fill="#f20d0d"/>
<rect x="6" y="43" width="1" height="1167" fill="#f20d0d"/>
<rect x="1636" y="43" width="1" height="1167" fill="#f20d0d"/>
<rect x="1564" y="43" width="1" height="1167" fill="#f20d0d"/>
<rect x="6" y="1181" width="1631" height="1" fill="#f20d0d"/>
<text x="1625.4" y="95.7" text-anchor="end" font-family='"Liberation Sans", sans-serif' font-size="12.4" letter-spacing="0.45" fill="#131722">4,500.00</text>
<text x="1625.4" y="149.8" text-anchor="end" font-family='"Liberation Sans", sans-serif' font-size="12.4" letter-spacing="0.45" fill="#131722">4,400.00</text>
<text x="1625.4" y="203.8" text-anchor="end" font-family='"Liberation Sans", sans-serif' font-size="12.4" letter-spacing="0.45" fill="#131722">4,300.00</text>
<text x="1625.4" y="257.9" text-anchor="end" font-family='"Liberation Sans", sans-serif' font-size="12.4" letter-spacing="0.45" fill="#131722">4,200.00</text>
<text x="1625.4" y="311.9" text-anchor="end" font-family='"Liberation Sans", sans-serif' font-size="12.4" letter-spacing="0.45" fill="#131722">4,100.00</text>
<text x="1625.4" y="365.9" text-anchor="end" font-family='"Liberation Sans", sans-serif' font-size="12.4" letter-spacing="0.45" fill="#131722">4,000.00</text>
<text x="1625.4" y="420.0" text-anchor="end" font-family='"Liberation Sans", sans-serif' font-size="12.4" letter-spacing="0.45" fill="#131722">3,900.00</text>
<text x="1625.4" y="474.1" text-anchor="end" font-family='"Liberation Sans", sans-serif' font-size="12.4" letter-spacing="0.45" fill="#131722">3,800.00</text>
<text x="1625.4" y="528.1" text-anchor="end" font-family='"Liberation Sans", sans-serif' font-size="12.4" letter-spacing="0.45" fill="#131722">3,700.00</text>
<text x="1625.4" y="582.1" text-anchor="end" font-family='"Liberation Sans", sans-serif' font-size="12.4" letter-spacing="0.45" fill="#131722">3,600.00</text>
<text x="1625.4" y="636.2" text-anchor="end" font-family='"Liberation Sans", sans-serif' font-size="12.4" letter-spacing="0.45" fill="#131722">3,500.00</text>
<text x="1625.4" y="690.2" text-anchor="end" font-family='"Liberation Sans", sans-serif' font-size="12.4" letter-spacing="0.45" fill="#131722">3,400.00</text>
<text x="1625.4" y="744.3" text-anchor="end" font-family='"Liberation Sans", sans-serif' font-size="12.4" letter-spacing="0.45" fill="#131722">3,300.00</text>
<text x="1625.4" y="798.3" text-anchor="end" font-family='"Liberation Sans", sans-serif' font-size="12.4" letter-spacing="0.45" fill="#131722">3,200.00</text>
<text x="1625.4" y="852.4" text-anchor="end" font-family='"Liberation Sans", sans-serif' font-size="12.4" letter-spacing="0.45" fill="#131722">3,100.00</text>
<text x="1625.4" y="906.4" text-anchor="end" font-family='"Liberation Sans", sans-serif' font-size="12.4" letter-spacing="0.45" fill="#131722">3,000.00</text>
<text x="1625.4" y="960.5" text-anchor="end" font-family='"Liberation Sans", sans-serif' font-size="12.4" letter-spacing="0.45" fill="#131722">2,900.00</text>
<text x="1625.4" y="1014.5" text-anchor="end" font-family='"Liberation Sans", sans-serif' font-size="12.4" letter-spacing="0.45" fill="#131722">2,800.00</text>
<text x="1625.4" y="1068.6" text-anchor="end" font-family='"Liberation Sans", sans-serif' font-size="12.4" letter-spacing="0.45" fill="#131722">2,700.00</text>
<text x="1625.4" y="1122.7" text-anchor="end" font-family='"Liberation Sans", sans-serif' font-size="12.4" letter-spacing="0.45" fill="#131722">2,600.00</text>
<text x="1625.4" y="1176.7" text-anchor="end" font-family='"Liberation Sans", sans-serif' font-size="12.4" letter-spacing="0.45" fill="#131722">2,500.00</text>
<path d="M1564 221h64a3 3 0 0 1 3 3v11a3 3 0 0 1 -3 3h-64z" fill="#f70d0d" shape-rendering="geometricPrecision"/>
<text x="1625.6" y="233" text-anchor="end" font-family='"Liberation Sans", sans-serif' font-size="12.4" letter-spacing="0.45" fill="#ffffff">4,246.86</text>
<text x="103" y="1200" text-anchor="middle" font-family='"Liberation Sans", sans-serif' font-size="12" fill="#131722">Feb</text>
<text x="222.8" y="1200" text-anchor="middle" font-family='"Liberation Sans", sans-serif' font-size="12" fill="#131722">Mar</text>
<text x="348.8" y="1200" text-anchor="middle" font-family='"Liberation Sans", sans-serif' font-size="12" fill="#131722">Apr</text>
<text x="474.6" y="1200" text-anchor="middle" font-family='"Liberation Sans", sans-serif' font-size="12" fill="#131722">May</text>
<text x="606.7" y="1200" text-anchor="middle" font-family='"Liberation Sans", sans-serif' font-size="12" fill="#131722">Jun</text>
<text x="732.6" y="1200" text-anchor="middle" font-family='"Liberation Sans", sans-serif' font-size="12" fill="#131722">Jul</text>
<text x="870.3" y="1200" text-anchor="middle" font-family='"Liberation Sans", sans-serif' font-size="12" fill="#131722">Aug</text>
<text x="1386" y="1200" text-anchor="middle" font-family='"Liberation Sans", sans-serif' font-size="12" fill="#131722">Dec</text>
<text x="1523.8" y="1200" text-anchor="middle" font-family='"Liberation Sans", sans-serif' font-size="13" font-weight="bold" letter-spacing="0.4" fill="#131722">2026</text>
<path d="M932 1181h449v21a3 3 0 0 1 -3 3h-443a3 3 0 0 1 -3 -3z" fill="#2962ff" shape-rendering="geometricPrecision"/>
<text x="960.6" y="1199" text-anchor="middle" font-family='"Liberation Sans", sans-serif' font-size="12.8" fill="#ffffff">Thu 28</text>
<text x="1037.9" y="1199" text-anchor="middle" font-family='"Liberation Sans", sans-serif' font-size="12.8" fill="#ffffff">Wed 10 Sep '25</text>
<text x="1134.7" y="1199" text-anchor="middle" font-family='"Liberation Sans", sans-serif' font-size="12.8" fill="#ffffff">Thu 02 Oct '25</text>
<text x="1229.5" y="1199" text-anchor="middle" font-family='"Liberation Sans", sans-serif' font-size="12.8" fill="#ffffff">Fri 24 Oct '25</text>
<text x="1289.8" y="1199" text-anchor="middle" font-family='"Liberation Sans", sans-serif' font-size="12.8" fill="#ffffff">'25</text>
<text x="1340.1" y="1199" text-anchor="middle" font-family='"Liberation Sans", sans-serif' font-size="12.8" fill="#ffffff">17 Nov '25</text>
<text x="6" y="16.4" font-family='"Liberation Sans", sans-serif' font-size="12.5" fill="#131722"><tspan font-weight="bold">sunya</tspan> published on TradingView.com, October 18, 2025 05:42:31 EST</text>
<text x="6" y="33.5" font-family='"Liberation Sans", sans-serif' font-size="11.5" font-weight="bold" fill="#131722">PEPPERSTONE:XAUUSD, 1D</text>
<text x="170.2" y="33.5" font-family='"Liberation Sans", sans-serif' font-size="12.3"  textLength="47.9" lengthAdjust="spacingAndGlyphs" fill="#131722">4,246.86</text>
<path d="M222 24.5h10l-5 9.5z" fill="#f23645" shape-rendering="geometricPrecision"/>
<text x="236.7" y="33.5" font-family='"Liberation Sans", sans-serif' font-size="12.3"  textLength="37.2" lengthAdjust="spacingAndGlyphs" fill="#131722">−79.40</text>
<text x="278.6" y="33.5" font-family='"Liberation Sans", sans-serif' font-size="12.3"  textLength="48.6" lengthAdjust="spacingAndGlyphs" fill="#131722">(−1.84%)</text>
<text x="333.5" y="33.5" font-family='"Liberation Sans", sans-serif' font-size="12.3" font-weight="bold" textLength="11.3" lengthAdjust="spacingAndGlyphs" fill="#131722">O:</text>
<text x="347" y="33.5" font-family='"Liberation Sans", sans-serif' font-size="12.3"  textLength="48.2" lengthAdjust="spacingAndGlyphs" fill="#f23645">4,335.41</text>
<text x="400.4" y="33.5" font-family='"Liberation Sans", sans-serif' font-size="12.3" font-weight="bold" textLength="11.7" lengthAdjust="spacingAndGlyphs" fill="#131722">H:</text>
<text x="413.9" y="33.5" font-family='"Liberation Sans", sans-serif' font-size="12.3"  textLength="49.4" lengthAdjust="spacingAndGlyphs" fill="#f23645">4,379.22</text>
<text x="468.4" y="33.5" font-family='"Liberation Sans", sans-serif' font-size="12.3" font-weight="bold" textLength="8.7" lengthAdjust="spacingAndGlyphs" fill="#131722">L:</text>
<text x="479.3" y="33.5" font-family='"Liberation Sans", sans-serif' font-size="12.3"  textLength="48.2" lengthAdjust="spacingAndGlyphs" fill="#f23645">4,186.44</text>
<text x="532.6" y="33.5" font-family='"Liberation Sans", sans-serif' font-size="12.3" font-weight="bold" textLength="11.0" lengthAdjust="spacingAndGlyphs" fill="#131722">C:</text>
<text x="544.6" y="33.5" font-family='"Liberation Sans", sans-serif' font-size="12.3"  textLength="49.1" lengthAdjust="spacingAndGlyphs" fill="#f23645">4,246.86</text>
<text x="15" y="65" font-family='"Liberation Sans", sans-serif' font-size="11.9" font-weight="bold" fill="#131722">XAUUSD · 1D · Pepperstone</text>
<g fill="#131722" shape-rendering="geometricPrecision">
<path d="M6 1221h8.8v12h-4.7v-7.6h-4.1z"/>
<circle cx="19.1" cy="1223.5" r="1.75"/>
<path d="M21.8 1221h6.8l-3.2 12h-6.2z"/>
</g>
<text x="33" y="1233" font-family='"Liberation Sans", sans-serif' font-size="16" font-weight="bold" textLength="91.5" lengthAdjust="spacingAndGlyphs" fill="#131722" shape-rendering="geometricPrecision">TradingView</text>
</svg>
</body></html>
